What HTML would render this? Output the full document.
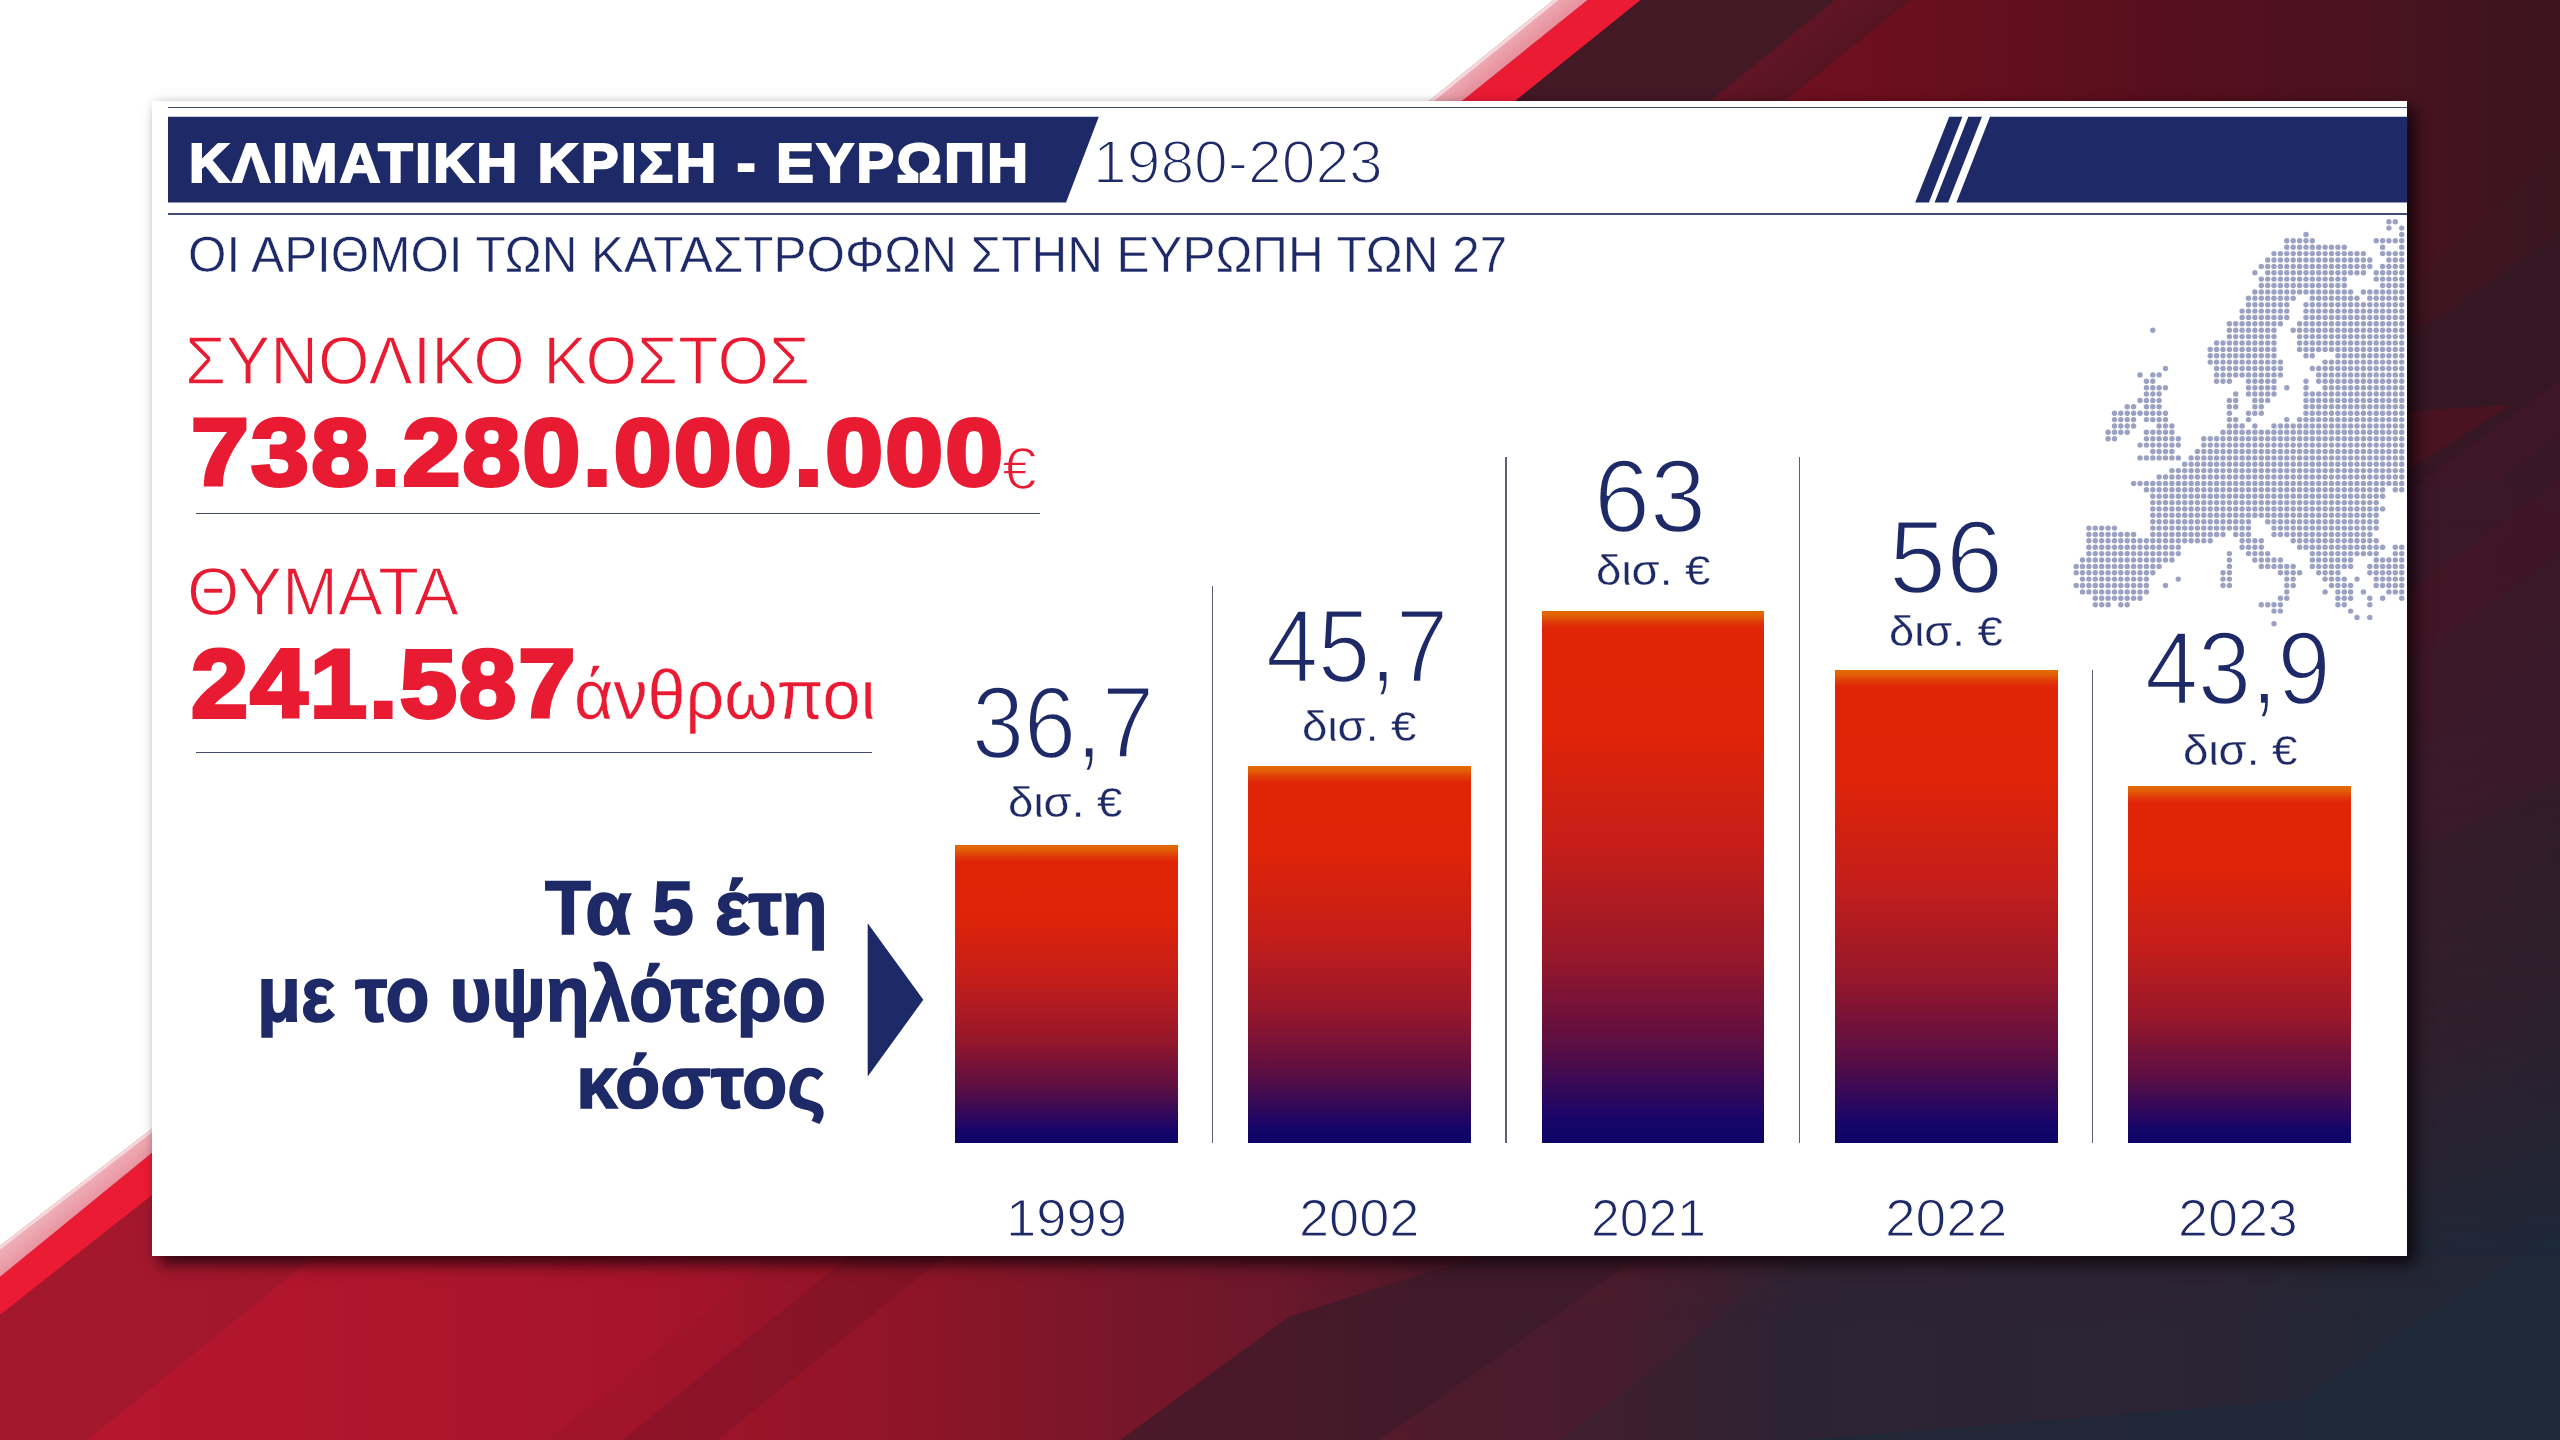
<!DOCTYPE html>
<html lang="el">
<head>
<meta charset="utf-8">
<title>Κλιματική κρίση - Ευρώπη 1980-2023</title>
<style>
html,body{margin:0;padding:0;}
body{width:2560px;height:1440px;overflow:hidden;position:relative;background:#fff;font-family:"Liberation Sans", sans-serif;}
.abs{position:absolute;left:0;top:0;}
#panel{position:absolute;left:152px;top:100.5px;width:2254.5px;height:1155.5px;background:#fff;box-shadow:8px 8px 14px rgba(10,0,5,.75), 0 0 8px rgba(0,0,0,.07);}
.t{position:absolute;display:block;line-height:1;white-space:nowrap;transform-origin:0 0;margin:0;padding:0;}
h1,h2,p{margin:0;padding:0;font-size:inherit;font-weight:inherit;}
.hline{position:absolute;height:1.3px;background:#434a74;}
.vline{position:absolute;width:1.5px;background:#5a6079;}
.bar{position:absolute;background:linear-gradient(to bottom,#e26b03 0px,#e15f05 5px,#e03a08 11px,#e02507 17px,#e02407 22%,#c41e1a 45%,#97172a 65%,#5a0e44 82%,#16056a 96%,#0c0466 100%);}
.shape{position:absolute;background:#1e2967;}
</style>
</head>
<body>
<svg class="abs" width="2560" height="1440" viewBox="0 0 2560 1440">
<defs>
 <linearGradient id="gBase" gradientUnits="userSpaceOnUse" x1="0" y1="0" x2="2560" y2="0">
  <stop offset="0" stop-color="#a4182e"/>
  <stop offset="0.10" stop-color="#a2172c"/>
  <stop offset="0.25" stop-color="#a1142a"/>
  <stop offset="0.34" stop-color="#931427"/>
  <stop offset="0.42" stop-color="#7c1629"/>
  <stop offset="0.50" stop-color="#6b172a"/>
  <stop offset="0.56" stop-color="#4c1b2c"/>
  <stop offset="0.63" stop-color="#481c2d"/>
  <stop offset="0.70" stop-color="#2f2334"/>
  <stop offset="0.86" stop-color="#2a2536"/>
  <stop offset="0.93" stop-color="#1f2838"/>
  <stop offset="1" stop-color="#1c2a3a"/>
 </linearGradient>
 <linearGradient id="gTopX" gradientUnits="userSpaceOnUse" x1="1700" y1="0" x2="2560" y2="0">
  <stop offset="0" stop-color="#72101f"/>
  <stop offset="0.25" stop-color="#6a0f1e"/>
  <stop offset="0.55" stop-color="#560f1d"/>
  <stop offset="0.8" stop-color="#48131f"/>
  <stop offset="1" stop-color="#3b141f"/>
 </linearGradient>
 <linearGradient id="gFadeY" gradientUnits="userSpaceOnUse" x1="0" y1="0" x2="0" y2="1440">
  <stop offset="0" stop-color="#fff" stop-opacity="1"/>
  <stop offset="0.2" stop-color="#fff" stop-opacity="1"/>
  <stop offset="0.5" stop-color="#fff" stop-opacity="0.85"/>
  <stop offset="0.72" stop-color="#fff" stop-opacity="0.55"/>
  <stop offset="0.86" stop-color="#fff" stop-opacity="0.12"/>
  <stop offset="0.92" stop-color="#fff" stop-opacity="0"/>
 </linearGradient>
 <mask id="mFade"><rect x="0" y="0" width="2560" height="1440" fill="url(#gFadeY)"/></mask>
 <linearGradient id="gPink" gradientUnits="userSpaceOnUse" x1="0" y1="0" x2="30" y2="37">
  <stop offset="0" stop-color="#f9dfe2"/>
  <stop offset="0.45" stop-color="#f0a9b2"/>
  <stop offset="1" stop-color="#ea7685"/>
 </linearGradient>
 <linearGradient id="gFacet" gradientUnits="userSpaceOnUse" x1="80" y1="0" x2="800" y2="0">
  <stop offset="0" stop-color="#bb152f" stop-opacity=".85"/>
  <stop offset="0.5" stop-color="#b4152e" stop-opacity=".6"/>
  <stop offset="1" stop-color="#a6142b" stop-opacity=".3"/>
 </linearGradient>
 <linearGradient id="gBand2" gradientUnits="userSpaceOnUse" x1="1835" y1="0" x2="1881.5" y2="57.6">
  <stop offset="0" stop-color="#601525"/>
  <stop offset="0.5" stop-color="#581422"/>
  <stop offset="1" stop-color="#4f121e"/>
 </linearGradient>
 <linearGradient id="gPink2" gradientUnits="userSpaceOnUse" x1="1545" y1="0" x2="1560" y2="18.58" spreadMethod="pad">
  <stop offset="0" stop-color="#efb3bb"/>
  <stop offset="1" stop-color="#e8939f"/>
 </linearGradient>
</defs>
<rect x="0" y="0" width="2560" height="1440" fill="url(#gBase)"/>
<!-- upper-right maroon mass fading downwards into the navy -->
<g mask="url(#mFade)">
 <rect x="1300" y="0" width="1260" height="1440" fill="url(#gTopX)"/>
 <polygon points="1650.4,-10.0 1848.4,-10.0 1464.6,300.0 1266.6,300.0" fill="#431926"/>
 <polygon points="1847.4,-10.0 1922.4,-10.0 1538.6,300.0 1463.6,300.0" fill="url(#gBand2)"/>
 <polygon points="2406,290 2560,150 2560,330 2406,470" fill="#3a1822" opacity=".55"/>
 <polygon points="2406,760 2560,640 2560,1440 2406,1440" fill="#33202f" opacity=".35"/>
</g>
<!-- right strip facets -->
<polygon points="2396,347 2560,233 2560,520 2500,478 2396,486" fill="#341826" opacity=".8"/>
<polygon points="2396,486 2500,478 2560,435 2560,480 2396,600" fill="#1f2030" opacity=".45"/>
<polygon points="2396,412 2510,405 2396,478" fill="#4b1322" opacity=".9"/>
<polygon points="2396,500 2560,380 2560,553 2396,667" fill="#44162a" opacity=".55"/>
<polygon points="2396,667 2560,553 2560,780 2396,860" fill="#3c1b2d" opacity=".6"/>
<!-- bottom facets -->
<polygon points="384.4,1200.0 844.4,1200.0 534.9,1450.0 74.9,1450.0" fill="url(#gFacet)"/>
<polygon points="919.4,1200.0 1014.4,1200.0 704.9,1450.0 609.9,1450.0" fill="#6d1224" opacity=".35"/>
<polygon points="1120,1440 1290,1316 1480,1256 1640,1256 1380,1440" fill="#3c1b2a" opacity=".75"/>
<polygon points="1560,1440 1800,1256 2560,1256 2560,1440" fill="#2b2435" opacity=".35"/>
<polygon points="1800,1440 2300,1400 2560,1230 2560,1440" fill="#1b2a3a" opacity=".6"/>
<!-- left: white wedge, pink edge, bright red band -->
<polygon points="1599.9,-10.0 1462.5,100.6 152.0,1152.7 0.0,1276.8 -212.0,1450.0 -172.0,1450.0 0.0,1314.7 152.0,1195.0 1515.6,100.6 1653.0,-10.0" fill="#ec1b34"/>
<polygon points="1565.9,-10.0 1429.5,100.6 152.0,1128.6 0.0,1245.7 -265.0,1450.0 -212.0,1450.0 0.0,1276.8 152.0,1152.7 1462.5,100.6 1599.9,-10.0" fill="url(#gPink2)"/>
<polygon points="-3000.0,-10.0 -3000.0,1450.0 -265.0,1450.0 0.0,1245.7 152.0,1128.6 1429.5,100.6 1565.9,-10.0" fill="#fff"/>
<polygon points="1565.9,-10.0 1429.5,100.6 152.0,1128.6 0.0,1245.7 -265.0,1450.0 -260.0,1450.0 5.0,1245.7 157.0,1128.6 1434.5,100.6 1570.9,-10.0" fill="#f6d8dc"/>
</svg>
<main id="panel"></main>
<header>
<div class="hline" style="left:168px;top:106.9px;width:2238.8px"></div>
<svg class="abs" width="2560" height="1440" viewBox="0 0 2560 1440">
 <g fill="#1e2967">
  <polygon points="168,116.7 1098.8,116.7 1066,202.5 168,202.5"/>
  <polygon points="1949.2,116.7 1962.4,116.7 1928.9,202.5 1915.2,202.5"/>
  <polygon points="1968.3,116.7 1982,116.7 1948.2,202.5 1934.6,202.5"/>
  <polygon points="1990,116.7 2407.2,116.7 2407.2,202.5 1956.4,202.5"/>
 </g>
</svg>
<h1 class="t" id="title" style="left:188.60px;top:135.63px;font-size:55.54px;font-weight:700;color:#fff;transform:scaleX(1.0132);-webkit-text-stroke:2.2px #fff;letter-spacing:2.5px;">ΚΛΙΜΑΤΙΚΗ ΚΡΙΣΗ - ΕΥΡΩΠΗ</h1>
<div class="t" id="period" style="left:1093.34px;top:132.22px;font-size:61.16px;font-weight:400;color:#1e2967;transform:scaleX(0.9909);-webkit-text-stroke:2.0px #fff;">1980-2023</div>
<div class="hline" style="left:168px;top:213.3px;width:2238.8px"></div>
<h2 class="t" id="sub" style="left:187.70px;top:230.71px;font-size:49.07px;font-weight:400;color:#1e2967;transform:scaleX(1.0072);-webkit-text-stroke:0.5px #fff;">ΟΙ ΑΡΙΘΜΟΙ ΤΩΝ ΚΑΤΑΣΤΡΟΦΩΝ ΣΤΗΝ ΕΥΡΩΠΗ ΤΩΝ 27</h2>
</header>
<aside class="map">
<svg class="abs" width="2560" height="1440" viewBox="0 0 2560 1440"><g fill="#9ba1c2"><circle cx="2388.9" cy="221.7" r="2.7"/><circle cx="2395.3" cy="221.7" r="2.7"/><circle cx="2388.9" cy="228.1" r="2.7"/><circle cx="2401.7" cy="228.1" r="2.7"/><circle cx="2306.0" cy="234.5" r="2.7"/><circle cx="2401.7" cy="234.5" r="2.7"/><circle cx="2286.8" cy="240.8" r="2.7"/><circle cx="2293.2" cy="240.8" r="2.7"/><circle cx="2299.6" cy="240.8" r="2.7"/><circle cx="2306.0" cy="240.8" r="2.7"/><circle cx="2312.3" cy="240.8" r="2.7"/><circle cx="2376.2" cy="240.8" r="2.7"/><circle cx="2382.6" cy="240.8" r="2.7"/><circle cx="2388.9" cy="240.8" r="2.7"/><circle cx="2395.3" cy="240.8" r="2.7"/><circle cx="2401.7" cy="240.8" r="2.7"/><circle cx="2286.8" cy="247.2" r="2.7"/><circle cx="2293.2" cy="247.2" r="2.7"/><circle cx="2299.6" cy="247.2" r="2.7"/><circle cx="2306.0" cy="247.2" r="2.7"/><circle cx="2312.3" cy="247.2" r="2.7"/><circle cx="2318.7" cy="247.2" r="2.7"/><circle cx="2325.1" cy="247.2" r="2.7"/><circle cx="2331.5" cy="247.2" r="2.7"/><circle cx="2337.9" cy="247.2" r="2.7"/><circle cx="2344.3" cy="247.2" r="2.7"/><circle cx="2382.6" cy="247.2" r="2.7"/><circle cx="2401.7" cy="247.2" r="2.7"/><circle cx="2274.0" cy="253.6" r="2.7"/><circle cx="2280.4" cy="253.6" r="2.7"/><circle cx="2286.8" cy="253.6" r="2.7"/><circle cx="2293.2" cy="253.6" r="2.7"/><circle cx="2299.6" cy="253.6" r="2.7"/><circle cx="2306.0" cy="253.6" r="2.7"/><circle cx="2312.3" cy="253.6" r="2.7"/><circle cx="2318.7" cy="253.6" r="2.7"/><circle cx="2325.1" cy="253.6" r="2.7"/><circle cx="2331.5" cy="253.6" r="2.7"/><circle cx="2337.9" cy="253.6" r="2.7"/><circle cx="2344.3" cy="253.6" r="2.7"/><circle cx="2350.6" cy="253.6" r="2.7"/><circle cx="2357.0" cy="253.6" r="2.7"/><circle cx="2363.4" cy="253.6" r="2.7"/><circle cx="2382.6" cy="253.6" r="2.7"/><circle cx="2388.9" cy="253.6" r="2.7"/><circle cx="2395.3" cy="253.6" r="2.7"/><circle cx="2401.7" cy="253.6" r="2.7"/><circle cx="2267.7" cy="260.0" r="2.7"/><circle cx="2274.0" cy="260.0" r="2.7"/><circle cx="2280.4" cy="260.0" r="2.7"/><circle cx="2286.8" cy="260.0" r="2.7"/><circle cx="2293.2" cy="260.0" r="2.7"/><circle cx="2299.6" cy="260.0" r="2.7"/><circle cx="2306.0" cy="260.0" r="2.7"/><circle cx="2312.3" cy="260.0" r="2.7"/><circle cx="2318.7" cy="260.0" r="2.7"/><circle cx="2325.1" cy="260.0" r="2.7"/><circle cx="2331.5" cy="260.0" r="2.7"/><circle cx="2337.9" cy="260.0" r="2.7"/><circle cx="2344.3" cy="260.0" r="2.7"/><circle cx="2350.6" cy="260.0" r="2.7"/><circle cx="2357.0" cy="260.0" r="2.7"/><circle cx="2363.4" cy="260.0" r="2.7"/><circle cx="2369.8" cy="260.0" r="2.7"/><circle cx="2388.9" cy="260.0" r="2.7"/><circle cx="2395.3" cy="260.0" r="2.7"/><circle cx="2401.7" cy="260.0" r="2.7"/><circle cx="2261.3" cy="266.4" r="2.7"/><circle cx="2267.7" cy="266.4" r="2.7"/><circle cx="2274.0" cy="266.4" r="2.7"/><circle cx="2280.4" cy="266.4" r="2.7"/><circle cx="2286.8" cy="266.4" r="2.7"/><circle cx="2293.2" cy="266.4" r="2.7"/><circle cx="2299.6" cy="266.4" r="2.7"/><circle cx="2306.0" cy="266.4" r="2.7"/><circle cx="2312.3" cy="266.4" r="2.7"/><circle cx="2318.7" cy="266.4" r="2.7"/><circle cx="2325.1" cy="266.4" r="2.7"/><circle cx="2331.5" cy="266.4" r="2.7"/><circle cx="2337.9" cy="266.4" r="2.7"/><circle cx="2344.3" cy="266.4" r="2.7"/><circle cx="2350.6" cy="266.4" r="2.7"/><circle cx="2357.0" cy="266.4" r="2.7"/><circle cx="2363.4" cy="266.4" r="2.7"/><circle cx="2369.8" cy="266.4" r="2.7"/><circle cx="2382.6" cy="266.4" r="2.7"/><circle cx="2388.9" cy="266.4" r="2.7"/><circle cx="2395.3" cy="266.4" r="2.7"/><circle cx="2401.7" cy="266.4" r="2.7"/><circle cx="2254.9" cy="272.8" r="2.7"/><circle cx="2267.7" cy="272.8" r="2.7"/><circle cx="2274.0" cy="272.8" r="2.7"/><circle cx="2280.4" cy="272.8" r="2.7"/><circle cx="2286.8" cy="272.8" r="2.7"/><circle cx="2293.2" cy="272.8" r="2.7"/><circle cx="2299.6" cy="272.8" r="2.7"/><circle cx="2306.0" cy="272.8" r="2.7"/><circle cx="2312.3" cy="272.8" r="2.7"/><circle cx="2318.7" cy="272.8" r="2.7"/><circle cx="2325.1" cy="272.8" r="2.7"/><circle cx="2331.5" cy="272.8" r="2.7"/><circle cx="2337.9" cy="272.8" r="2.7"/><circle cx="2344.3" cy="272.8" r="2.7"/><circle cx="2350.6" cy="272.8" r="2.7"/><circle cx="2357.0" cy="272.8" r="2.7"/><circle cx="2363.4" cy="272.8" r="2.7"/><circle cx="2376.2" cy="272.8" r="2.7"/><circle cx="2382.6" cy="272.8" r="2.7"/><circle cx="2388.9" cy="272.8" r="2.7"/><circle cx="2395.3" cy="272.8" r="2.7"/><circle cx="2401.7" cy="272.8" r="2.7"/><circle cx="2261.3" cy="279.1" r="2.7"/><circle cx="2267.7" cy="279.1" r="2.7"/><circle cx="2274.0" cy="279.1" r="2.7"/><circle cx="2280.4" cy="279.1" r="2.7"/><circle cx="2286.8" cy="279.1" r="2.7"/><circle cx="2293.2" cy="279.1" r="2.7"/><circle cx="2299.6" cy="279.1" r="2.7"/><circle cx="2306.0" cy="279.1" r="2.7"/><circle cx="2312.3" cy="279.1" r="2.7"/><circle cx="2318.7" cy="279.1" r="2.7"/><circle cx="2325.1" cy="279.1" r="2.7"/><circle cx="2331.5" cy="279.1" r="2.7"/><circle cx="2337.9" cy="279.1" r="2.7"/><circle cx="2344.3" cy="279.1" r="2.7"/><circle cx="2376.2" cy="279.1" r="2.7"/><circle cx="2382.6" cy="279.1" r="2.7"/><circle cx="2388.9" cy="279.1" r="2.7"/><circle cx="2395.3" cy="279.1" r="2.7"/><circle cx="2401.7" cy="279.1" r="2.7"/><circle cx="2261.3" cy="285.5" r="2.7"/><circle cx="2267.7" cy="285.5" r="2.7"/><circle cx="2274.0" cy="285.5" r="2.7"/><circle cx="2280.4" cy="285.5" r="2.7"/><circle cx="2286.8" cy="285.5" r="2.7"/><circle cx="2293.2" cy="285.5" r="2.7"/><circle cx="2299.6" cy="285.5" r="2.7"/><circle cx="2306.0" cy="285.5" r="2.7"/><circle cx="2312.3" cy="285.5" r="2.7"/><circle cx="2318.7" cy="285.5" r="2.7"/><circle cx="2325.1" cy="285.5" r="2.7"/><circle cx="2331.5" cy="285.5" r="2.7"/><circle cx="2337.9" cy="285.5" r="2.7"/><circle cx="2344.3" cy="285.5" r="2.7"/><circle cx="2382.6" cy="285.5" r="2.7"/><circle cx="2388.9" cy="285.5" r="2.7"/><circle cx="2395.3" cy="285.5" r="2.7"/><circle cx="2401.7" cy="285.5" r="2.7"/><circle cx="2254.9" cy="291.9" r="2.7"/><circle cx="2261.3" cy="291.9" r="2.7"/><circle cx="2267.7" cy="291.9" r="2.7"/><circle cx="2274.0" cy="291.9" r="2.7"/><circle cx="2280.4" cy="291.9" r="2.7"/><circle cx="2286.8" cy="291.9" r="2.7"/><circle cx="2293.2" cy="291.9" r="2.7"/><circle cx="2299.6" cy="291.9" r="2.7"/><circle cx="2306.0" cy="291.9" r="2.7"/><circle cx="2312.3" cy="291.9" r="2.7"/><circle cx="2318.7" cy="291.9" r="2.7"/><circle cx="2325.1" cy="291.9" r="2.7"/><circle cx="2331.5" cy="291.9" r="2.7"/><circle cx="2337.9" cy="291.9" r="2.7"/><circle cx="2344.3" cy="291.9" r="2.7"/><circle cx="2350.6" cy="291.9" r="2.7"/><circle cx="2363.4" cy="291.9" r="2.7"/><circle cx="2369.8" cy="291.9" r="2.7"/><circle cx="2376.2" cy="291.9" r="2.7"/><circle cx="2382.6" cy="291.9" r="2.7"/><circle cx="2388.9" cy="291.9" r="2.7"/><circle cx="2395.3" cy="291.9" r="2.7"/><circle cx="2401.7" cy="291.9" r="2.7"/><circle cx="2248.5" cy="298.3" r="2.7"/><circle cx="2254.9" cy="298.3" r="2.7"/><circle cx="2261.3" cy="298.3" r="2.7"/><circle cx="2267.7" cy="298.3" r="2.7"/><circle cx="2274.0" cy="298.3" r="2.7"/><circle cx="2280.4" cy="298.3" r="2.7"/><circle cx="2286.8" cy="298.3" r="2.7"/><circle cx="2293.2" cy="298.3" r="2.7"/><circle cx="2312.3" cy="298.3" r="2.7"/><circle cx="2318.7" cy="298.3" r="2.7"/><circle cx="2325.1" cy="298.3" r="2.7"/><circle cx="2331.5" cy="298.3" r="2.7"/><circle cx="2337.9" cy="298.3" r="2.7"/><circle cx="2344.3" cy="298.3" r="2.7"/><circle cx="2350.6" cy="298.3" r="2.7"/><circle cx="2357.0" cy="298.3" r="2.7"/><circle cx="2369.8" cy="298.3" r="2.7"/><circle cx="2376.2" cy="298.3" r="2.7"/><circle cx="2382.6" cy="298.3" r="2.7"/><circle cx="2388.9" cy="298.3" r="2.7"/><circle cx="2395.3" cy="298.3" r="2.7"/><circle cx="2401.7" cy="298.3" r="2.7"/><circle cx="2248.5" cy="304.7" r="2.7"/><circle cx="2254.9" cy="304.7" r="2.7"/><circle cx="2261.3" cy="304.7" r="2.7"/><circle cx="2267.7" cy="304.7" r="2.7"/><circle cx="2274.0" cy="304.7" r="2.7"/><circle cx="2280.4" cy="304.7" r="2.7"/><circle cx="2286.8" cy="304.7" r="2.7"/><circle cx="2306.0" cy="304.7" r="2.7"/><circle cx="2312.3" cy="304.7" r="2.7"/><circle cx="2318.7" cy="304.7" r="2.7"/><circle cx="2325.1" cy="304.7" r="2.7"/><circle cx="2331.5" cy="304.7" r="2.7"/><circle cx="2337.9" cy="304.7" r="2.7"/><circle cx="2344.3" cy="304.7" r="2.7"/><circle cx="2350.6" cy="304.7" r="2.7"/><circle cx="2357.0" cy="304.7" r="2.7"/><circle cx="2363.4" cy="304.7" r="2.7"/><circle cx="2369.8" cy="304.7" r="2.7"/><circle cx="2376.2" cy="304.7" r="2.7"/><circle cx="2382.6" cy="304.7" r="2.7"/><circle cx="2388.9" cy="304.7" r="2.7"/><circle cx="2395.3" cy="304.7" r="2.7"/><circle cx="2401.7" cy="304.7" r="2.7"/><circle cx="2242.1" cy="311.1" r="2.7"/><circle cx="2248.5" cy="311.1" r="2.7"/><circle cx="2254.9" cy="311.1" r="2.7"/><circle cx="2261.3" cy="311.1" r="2.7"/><circle cx="2267.7" cy="311.1" r="2.7"/><circle cx="2274.0" cy="311.1" r="2.7"/><circle cx="2280.4" cy="311.1" r="2.7"/><circle cx="2286.8" cy="311.1" r="2.7"/><circle cx="2306.0" cy="311.1" r="2.7"/><circle cx="2312.3" cy="311.1" r="2.7"/><circle cx="2318.7" cy="311.1" r="2.7"/><circle cx="2325.1" cy="311.1" r="2.7"/><circle cx="2331.5" cy="311.1" r="2.7"/><circle cx="2337.9" cy="311.1" r="2.7"/><circle cx="2344.3" cy="311.1" r="2.7"/><circle cx="2350.6" cy="311.1" r="2.7"/><circle cx="2357.0" cy="311.1" r="2.7"/><circle cx="2363.4" cy="311.1" r="2.7"/><circle cx="2369.8" cy="311.1" r="2.7"/><circle cx="2376.2" cy="311.1" r="2.7"/><circle cx="2382.6" cy="311.1" r="2.7"/><circle cx="2388.9" cy="311.1" r="2.7"/><circle cx="2395.3" cy="311.1" r="2.7"/><circle cx="2401.7" cy="311.1" r="2.7"/><circle cx="2242.1" cy="317.4" r="2.7"/><circle cx="2248.5" cy="317.4" r="2.7"/><circle cx="2254.9" cy="317.4" r="2.7"/><circle cx="2261.3" cy="317.4" r="2.7"/><circle cx="2267.7" cy="317.4" r="2.7"/><circle cx="2274.0" cy="317.4" r="2.7"/><circle cx="2280.4" cy="317.4" r="2.7"/><circle cx="2286.8" cy="317.4" r="2.7"/><circle cx="2306.0" cy="317.4" r="2.7"/><circle cx="2312.3" cy="317.4" r="2.7"/><circle cx="2318.7" cy="317.4" r="2.7"/><circle cx="2325.1" cy="317.4" r="2.7"/><circle cx="2331.5" cy="317.4" r="2.7"/><circle cx="2337.9" cy="317.4" r="2.7"/><circle cx="2344.3" cy="317.4" r="2.7"/><circle cx="2350.6" cy="317.4" r="2.7"/><circle cx="2357.0" cy="317.4" r="2.7"/><circle cx="2363.4" cy="317.4" r="2.7"/><circle cx="2369.8" cy="317.4" r="2.7"/><circle cx="2376.2" cy="317.4" r="2.7"/><circle cx="2382.6" cy="317.4" r="2.7"/><circle cx="2388.9" cy="317.4" r="2.7"/><circle cx="2395.3" cy="317.4" r="2.7"/><circle cx="2401.7" cy="317.4" r="2.7"/><circle cx="2229.4" cy="323.8" r="2.7"/><circle cx="2235.7" cy="323.8" r="2.7"/><circle cx="2242.1" cy="323.8" r="2.7"/><circle cx="2248.5" cy="323.8" r="2.7"/><circle cx="2254.9" cy="323.8" r="2.7"/><circle cx="2261.3" cy="323.8" r="2.7"/><circle cx="2267.7" cy="323.8" r="2.7"/><circle cx="2274.0" cy="323.8" r="2.7"/><circle cx="2280.4" cy="323.8" r="2.7"/><circle cx="2299.6" cy="323.8" r="2.7"/><circle cx="2306.0" cy="323.8" r="2.7"/><circle cx="2312.3" cy="323.8" r="2.7"/><circle cx="2318.7" cy="323.8" r="2.7"/><circle cx="2325.1" cy="323.8" r="2.7"/><circle cx="2331.5" cy="323.8" r="2.7"/><circle cx="2337.9" cy="323.8" r="2.7"/><circle cx="2344.3" cy="323.8" r="2.7"/><circle cx="2350.6" cy="323.8" r="2.7"/><circle cx="2357.0" cy="323.8" r="2.7"/><circle cx="2363.4" cy="323.8" r="2.7"/><circle cx="2369.8" cy="323.8" r="2.7"/><circle cx="2376.2" cy="323.8" r="2.7"/><circle cx="2382.6" cy="323.8" r="2.7"/><circle cx="2388.9" cy="323.8" r="2.7"/><circle cx="2395.3" cy="323.8" r="2.7"/><circle cx="2401.7" cy="323.8" r="2.7"/><circle cx="2152.8" cy="330.2" r="2.7"/><circle cx="2229.4" cy="330.2" r="2.7"/><circle cx="2235.7" cy="330.2" r="2.7"/><circle cx="2242.1" cy="330.2" r="2.7"/><circle cx="2248.5" cy="330.2" r="2.7"/><circle cx="2254.9" cy="330.2" r="2.7"/><circle cx="2261.3" cy="330.2" r="2.7"/><circle cx="2267.7" cy="330.2" r="2.7"/><circle cx="2274.0" cy="330.2" r="2.7"/><circle cx="2293.2" cy="330.2" r="2.7"/><circle cx="2299.6" cy="330.2" r="2.7"/><circle cx="2306.0" cy="330.2" r="2.7"/><circle cx="2312.3" cy="330.2" r="2.7"/><circle cx="2318.7" cy="330.2" r="2.7"/><circle cx="2325.1" cy="330.2" r="2.7"/><circle cx="2331.5" cy="330.2" r="2.7"/><circle cx="2337.9" cy="330.2" r="2.7"/><circle cx="2344.3" cy="330.2" r="2.7"/><circle cx="2350.6" cy="330.2" r="2.7"/><circle cx="2357.0" cy="330.2" r="2.7"/><circle cx="2363.4" cy="330.2" r="2.7"/><circle cx="2369.8" cy="330.2" r="2.7"/><circle cx="2376.2" cy="330.2" r="2.7"/><circle cx="2382.6" cy="330.2" r="2.7"/><circle cx="2388.9" cy="330.2" r="2.7"/><circle cx="2395.3" cy="330.2" r="2.7"/><circle cx="2401.7" cy="330.2" r="2.7"/><circle cx="2229.4" cy="336.6" r="2.7"/><circle cx="2235.7" cy="336.6" r="2.7"/><circle cx="2242.1" cy="336.6" r="2.7"/><circle cx="2248.5" cy="336.6" r="2.7"/><circle cx="2254.9" cy="336.6" r="2.7"/><circle cx="2261.3" cy="336.6" r="2.7"/><circle cx="2267.7" cy="336.6" r="2.7"/><circle cx="2274.0" cy="336.6" r="2.7"/><circle cx="2299.6" cy="336.6" r="2.7"/><circle cx="2306.0" cy="336.6" r="2.7"/><circle cx="2312.3" cy="336.6" r="2.7"/><circle cx="2318.7" cy="336.6" r="2.7"/><circle cx="2325.1" cy="336.6" r="2.7"/><circle cx="2331.5" cy="336.6" r="2.7"/><circle cx="2337.9" cy="336.6" r="2.7"/><circle cx="2344.3" cy="336.6" r="2.7"/><circle cx="2350.6" cy="336.6" r="2.7"/><circle cx="2357.0" cy="336.6" r="2.7"/><circle cx="2363.4" cy="336.6" r="2.7"/><circle cx="2369.8" cy="336.6" r="2.7"/><circle cx="2376.2" cy="336.6" r="2.7"/><circle cx="2382.6" cy="336.6" r="2.7"/><circle cx="2388.9" cy="336.6" r="2.7"/><circle cx="2395.3" cy="336.6" r="2.7"/><circle cx="2401.7" cy="336.6" r="2.7"/><circle cx="2216.6" cy="343.0" r="2.7"/><circle cx="2223.0" cy="343.0" r="2.7"/><circle cx="2229.4" cy="343.0" r="2.7"/><circle cx="2235.7" cy="343.0" r="2.7"/><circle cx="2242.1" cy="343.0" r="2.7"/><circle cx="2248.5" cy="343.0" r="2.7"/><circle cx="2254.9" cy="343.0" r="2.7"/><circle cx="2261.3" cy="343.0" r="2.7"/><circle cx="2267.7" cy="343.0" r="2.7"/><circle cx="2274.0" cy="343.0" r="2.7"/><circle cx="2299.6" cy="343.0" r="2.7"/><circle cx="2306.0" cy="343.0" r="2.7"/><circle cx="2312.3" cy="343.0" r="2.7"/><circle cx="2318.7" cy="343.0" r="2.7"/><circle cx="2325.1" cy="343.0" r="2.7"/><circle cx="2331.5" cy="343.0" r="2.7"/><circle cx="2337.9" cy="343.0" r="2.7"/><circle cx="2344.3" cy="343.0" r="2.7"/><circle cx="2350.6" cy="343.0" r="2.7"/><circle cx="2357.0" cy="343.0" r="2.7"/><circle cx="2363.4" cy="343.0" r="2.7"/><circle cx="2369.8" cy="343.0" r="2.7"/><circle cx="2376.2" cy="343.0" r="2.7"/><circle cx="2382.6" cy="343.0" r="2.7"/><circle cx="2388.9" cy="343.0" r="2.7"/><circle cx="2395.3" cy="343.0" r="2.7"/><circle cx="2401.7" cy="343.0" r="2.7"/><circle cx="2210.2" cy="349.4" r="2.7"/><circle cx="2216.6" cy="349.4" r="2.7"/><circle cx="2223.0" cy="349.4" r="2.7"/><circle cx="2229.4" cy="349.4" r="2.7"/><circle cx="2235.7" cy="349.4" r="2.7"/><circle cx="2242.1" cy="349.4" r="2.7"/><circle cx="2248.5" cy="349.4" r="2.7"/><circle cx="2254.9" cy="349.4" r="2.7"/><circle cx="2261.3" cy="349.4" r="2.7"/><circle cx="2267.7" cy="349.4" r="2.7"/><circle cx="2274.0" cy="349.4" r="2.7"/><circle cx="2299.6" cy="349.4" r="2.7"/><circle cx="2306.0" cy="349.4" r="2.7"/><circle cx="2312.3" cy="349.4" r="2.7"/><circle cx="2318.7" cy="349.4" r="2.7"/><circle cx="2325.1" cy="349.4" r="2.7"/><circle cx="2331.5" cy="349.4" r="2.7"/><circle cx="2337.9" cy="349.4" r="2.7"/><circle cx="2344.3" cy="349.4" r="2.7"/><circle cx="2350.6" cy="349.4" r="2.7"/><circle cx="2357.0" cy="349.4" r="2.7"/><circle cx="2363.4" cy="349.4" r="2.7"/><circle cx="2369.8" cy="349.4" r="2.7"/><circle cx="2376.2" cy="349.4" r="2.7"/><circle cx="2382.6" cy="349.4" r="2.7"/><circle cx="2388.9" cy="349.4" r="2.7"/><circle cx="2395.3" cy="349.4" r="2.7"/><circle cx="2401.7" cy="349.4" r="2.7"/><circle cx="2210.2" cy="355.7" r="2.7"/><circle cx="2216.6" cy="355.7" r="2.7"/><circle cx="2223.0" cy="355.7" r="2.7"/><circle cx="2229.4" cy="355.7" r="2.7"/><circle cx="2235.7" cy="355.7" r="2.7"/><circle cx="2242.1" cy="355.7" r="2.7"/><circle cx="2248.5" cy="355.7" r="2.7"/><circle cx="2254.9" cy="355.7" r="2.7"/><circle cx="2261.3" cy="355.7" r="2.7"/><circle cx="2267.7" cy="355.7" r="2.7"/><circle cx="2274.0" cy="355.7" r="2.7"/><circle cx="2306.0" cy="355.7" r="2.7"/><circle cx="2312.3" cy="355.7" r="2.7"/><circle cx="2337.9" cy="355.7" r="2.7"/><circle cx="2344.3" cy="355.7" r="2.7"/><circle cx="2350.6" cy="355.7" r="2.7"/><circle cx="2357.0" cy="355.7" r="2.7"/><circle cx="2363.4" cy="355.7" r="2.7"/><circle cx="2369.8" cy="355.7" r="2.7"/><circle cx="2376.2" cy="355.7" r="2.7"/><circle cx="2382.6" cy="355.7" r="2.7"/><circle cx="2388.9" cy="355.7" r="2.7"/><circle cx="2395.3" cy="355.7" r="2.7"/><circle cx="2401.7" cy="355.7" r="2.7"/><circle cx="2210.2" cy="362.1" r="2.7"/><circle cx="2216.6" cy="362.1" r="2.7"/><circle cx="2223.0" cy="362.1" r="2.7"/><circle cx="2229.4" cy="362.1" r="2.7"/><circle cx="2235.7" cy="362.1" r="2.7"/><circle cx="2242.1" cy="362.1" r="2.7"/><circle cx="2248.5" cy="362.1" r="2.7"/><circle cx="2254.9" cy="362.1" r="2.7"/><circle cx="2261.3" cy="362.1" r="2.7"/><circle cx="2267.7" cy="362.1" r="2.7"/><circle cx="2274.0" cy="362.1" r="2.7"/><circle cx="2280.4" cy="362.1" r="2.7"/><circle cx="2325.1" cy="362.1" r="2.7"/><circle cx="2331.5" cy="362.1" r="2.7"/><circle cx="2337.9" cy="362.1" r="2.7"/><circle cx="2344.3" cy="362.1" r="2.7"/><circle cx="2350.6" cy="362.1" r="2.7"/><circle cx="2357.0" cy="362.1" r="2.7"/><circle cx="2363.4" cy="362.1" r="2.7"/><circle cx="2369.8" cy="362.1" r="2.7"/><circle cx="2376.2" cy="362.1" r="2.7"/><circle cx="2382.6" cy="362.1" r="2.7"/><circle cx="2388.9" cy="362.1" r="2.7"/><circle cx="2395.3" cy="362.1" r="2.7"/><circle cx="2401.7" cy="362.1" r="2.7"/><circle cx="2165.5" cy="368.5" r="2.7"/><circle cx="2216.6" cy="368.5" r="2.7"/><circle cx="2223.0" cy="368.5" r="2.7"/><circle cx="2229.4" cy="368.5" r="2.7"/><circle cx="2235.7" cy="368.5" r="2.7"/><circle cx="2242.1" cy="368.5" r="2.7"/><circle cx="2248.5" cy="368.5" r="2.7"/><circle cx="2254.9" cy="368.5" r="2.7"/><circle cx="2261.3" cy="368.5" r="2.7"/><circle cx="2267.7" cy="368.5" r="2.7"/><circle cx="2274.0" cy="368.5" r="2.7"/><circle cx="2280.4" cy="368.5" r="2.7"/><circle cx="2312.3" cy="368.5" r="2.7"/><circle cx="2318.7" cy="368.5" r="2.7"/><circle cx="2325.1" cy="368.5" r="2.7"/><circle cx="2331.5" cy="368.5" r="2.7"/><circle cx="2337.9" cy="368.5" r="2.7"/><circle cx="2344.3" cy="368.5" r="2.7"/><circle cx="2350.6" cy="368.5" r="2.7"/><circle cx="2357.0" cy="368.5" r="2.7"/><circle cx="2363.4" cy="368.5" r="2.7"/><circle cx="2369.8" cy="368.5" r="2.7"/><circle cx="2376.2" cy="368.5" r="2.7"/><circle cx="2382.6" cy="368.5" r="2.7"/><circle cx="2388.9" cy="368.5" r="2.7"/><circle cx="2395.3" cy="368.5" r="2.7"/><circle cx="2401.7" cy="368.5" r="2.7"/><circle cx="2140.0" cy="374.9" r="2.7"/><circle cx="2152.8" cy="374.9" r="2.7"/><circle cx="2159.1" cy="374.9" r="2.7"/><circle cx="2216.6" cy="374.9" r="2.7"/><circle cx="2223.0" cy="374.9" r="2.7"/><circle cx="2229.4" cy="374.9" r="2.7"/><circle cx="2235.7" cy="374.9" r="2.7"/><circle cx="2242.1" cy="374.9" r="2.7"/><circle cx="2248.5" cy="374.9" r="2.7"/><circle cx="2254.9" cy="374.9" r="2.7"/><circle cx="2261.3" cy="374.9" r="2.7"/><circle cx="2267.7" cy="374.9" r="2.7"/><circle cx="2274.0" cy="374.9" r="2.7"/><circle cx="2280.4" cy="374.9" r="2.7"/><circle cx="2318.7" cy="374.9" r="2.7"/><circle cx="2325.1" cy="374.9" r="2.7"/><circle cx="2331.5" cy="374.9" r="2.7"/><circle cx="2337.9" cy="374.9" r="2.7"/><circle cx="2344.3" cy="374.9" r="2.7"/><circle cx="2350.6" cy="374.9" r="2.7"/><circle cx="2357.0" cy="374.9" r="2.7"/><circle cx="2363.4" cy="374.9" r="2.7"/><circle cx="2369.8" cy="374.9" r="2.7"/><circle cx="2376.2" cy="374.9" r="2.7"/><circle cx="2382.6" cy="374.9" r="2.7"/><circle cx="2388.9" cy="374.9" r="2.7"/><circle cx="2395.3" cy="374.9" r="2.7"/><circle cx="2401.7" cy="374.9" r="2.7"/><circle cx="2146.4" cy="381.3" r="2.7"/><circle cx="2152.8" cy="381.3" r="2.7"/><circle cx="2216.6" cy="381.3" r="2.7"/><circle cx="2223.0" cy="381.3" r="2.7"/><circle cx="2229.4" cy="381.3" r="2.7"/><circle cx="2248.5" cy="381.3" r="2.7"/><circle cx="2254.9" cy="381.3" r="2.7"/><circle cx="2261.3" cy="381.3" r="2.7"/><circle cx="2267.7" cy="381.3" r="2.7"/><circle cx="2274.0" cy="381.3" r="2.7"/><circle cx="2306.0" cy="381.3" r="2.7"/><circle cx="2318.7" cy="381.3" r="2.7"/><circle cx="2325.1" cy="381.3" r="2.7"/><circle cx="2331.5" cy="381.3" r="2.7"/><circle cx="2337.9" cy="381.3" r="2.7"/><circle cx="2344.3" cy="381.3" r="2.7"/><circle cx="2350.6" cy="381.3" r="2.7"/><circle cx="2357.0" cy="381.3" r="2.7"/><circle cx="2363.4" cy="381.3" r="2.7"/><circle cx="2369.8" cy="381.3" r="2.7"/><circle cx="2376.2" cy="381.3" r="2.7"/><circle cx="2382.6" cy="381.3" r="2.7"/><circle cx="2388.9" cy="381.3" r="2.7"/><circle cx="2395.3" cy="381.3" r="2.7"/><circle cx="2401.7" cy="381.3" r="2.7"/><circle cx="2146.4" cy="387.7" r="2.7"/><circle cx="2152.8" cy="387.7" r="2.7"/><circle cx="2159.1" cy="387.7" r="2.7"/><circle cx="2165.5" cy="387.7" r="2.7"/><circle cx="2248.5" cy="387.7" r="2.7"/><circle cx="2254.9" cy="387.7" r="2.7"/><circle cx="2261.3" cy="387.7" r="2.7"/><circle cx="2267.7" cy="387.7" r="2.7"/><circle cx="2274.0" cy="387.7" r="2.7"/><circle cx="2286.8" cy="387.7" r="2.7"/><circle cx="2306.0" cy="387.7" r="2.7"/><circle cx="2325.1" cy="387.7" r="2.7"/><circle cx="2331.5" cy="387.7" r="2.7"/><circle cx="2337.9" cy="387.7" r="2.7"/><circle cx="2344.3" cy="387.7" r="2.7"/><circle cx="2350.6" cy="387.7" r="2.7"/><circle cx="2357.0" cy="387.7" r="2.7"/><circle cx="2363.4" cy="387.7" r="2.7"/><circle cx="2369.8" cy="387.7" r="2.7"/><circle cx="2376.2" cy="387.7" r="2.7"/><circle cx="2382.6" cy="387.7" r="2.7"/><circle cx="2388.9" cy="387.7" r="2.7"/><circle cx="2395.3" cy="387.7" r="2.7"/><circle cx="2401.7" cy="387.7" r="2.7"/><circle cx="2146.4" cy="394.0" r="2.7"/><circle cx="2152.8" cy="394.0" r="2.7"/><circle cx="2159.1" cy="394.0" r="2.7"/><circle cx="2235.7" cy="394.0" r="2.7"/><circle cx="2248.5" cy="394.0" r="2.7"/><circle cx="2254.9" cy="394.0" r="2.7"/><circle cx="2261.3" cy="394.0" r="2.7"/><circle cx="2267.7" cy="394.0" r="2.7"/><circle cx="2274.0" cy="394.0" r="2.7"/><circle cx="2306.0" cy="394.0" r="2.7"/><circle cx="2312.3" cy="394.0" r="2.7"/><circle cx="2318.7" cy="394.0" r="2.7"/><circle cx="2325.1" cy="394.0" r="2.7"/><circle cx="2331.5" cy="394.0" r="2.7"/><circle cx="2337.9" cy="394.0" r="2.7"/><circle cx="2344.3" cy="394.0" r="2.7"/><circle cx="2350.6" cy="394.0" r="2.7"/><circle cx="2357.0" cy="394.0" r="2.7"/><circle cx="2363.4" cy="394.0" r="2.7"/><circle cx="2369.8" cy="394.0" r="2.7"/><circle cx="2376.2" cy="394.0" r="2.7"/><circle cx="2382.6" cy="394.0" r="2.7"/><circle cx="2388.9" cy="394.0" r="2.7"/><circle cx="2395.3" cy="394.0" r="2.7"/><circle cx="2401.7" cy="394.0" r="2.7"/><circle cx="2140.0" cy="400.4" r="2.7"/><circle cx="2146.4" cy="400.4" r="2.7"/><circle cx="2152.8" cy="400.4" r="2.7"/><circle cx="2159.1" cy="400.4" r="2.7"/><circle cx="2229.4" cy="400.4" r="2.7"/><circle cx="2235.7" cy="400.4" r="2.7"/><circle cx="2254.9" cy="400.4" r="2.7"/><circle cx="2261.3" cy="400.4" r="2.7"/><circle cx="2267.7" cy="400.4" r="2.7"/><circle cx="2306.0" cy="400.4" r="2.7"/><circle cx="2312.3" cy="400.4" r="2.7"/><circle cx="2318.7" cy="400.4" r="2.7"/><circle cx="2325.1" cy="400.4" r="2.7"/><circle cx="2331.5" cy="400.4" r="2.7"/><circle cx="2337.9" cy="400.4" r="2.7"/><circle cx="2344.3" cy="400.4" r="2.7"/><circle cx="2350.6" cy="400.4" r="2.7"/><circle cx="2357.0" cy="400.4" r="2.7"/><circle cx="2363.4" cy="400.4" r="2.7"/><circle cx="2369.8" cy="400.4" r="2.7"/><circle cx="2376.2" cy="400.4" r="2.7"/><circle cx="2382.6" cy="400.4" r="2.7"/><circle cx="2388.9" cy="400.4" r="2.7"/><circle cx="2395.3" cy="400.4" r="2.7"/><circle cx="2401.7" cy="400.4" r="2.7"/><circle cx="2127.2" cy="406.8" r="2.7"/><circle cx="2133.6" cy="406.8" r="2.7"/><circle cx="2146.4" cy="406.8" r="2.7"/><circle cx="2152.8" cy="406.8" r="2.7"/><circle cx="2159.1" cy="406.8" r="2.7"/><circle cx="2229.4" cy="406.8" r="2.7"/><circle cx="2235.7" cy="406.8" r="2.7"/><circle cx="2254.9" cy="406.8" r="2.7"/><circle cx="2261.3" cy="406.8" r="2.7"/><circle cx="2306.0" cy="406.8" r="2.7"/><circle cx="2312.3" cy="406.8" r="2.7"/><circle cx="2318.7" cy="406.8" r="2.7"/><circle cx="2325.1" cy="406.8" r="2.7"/><circle cx="2331.5" cy="406.8" r="2.7"/><circle cx="2337.9" cy="406.8" r="2.7"/><circle cx="2344.3" cy="406.8" r="2.7"/><circle cx="2350.6" cy="406.8" r="2.7"/><circle cx="2357.0" cy="406.8" r="2.7"/><circle cx="2363.4" cy="406.8" r="2.7"/><circle cx="2369.8" cy="406.8" r="2.7"/><circle cx="2376.2" cy="406.8" r="2.7"/><circle cx="2382.6" cy="406.8" r="2.7"/><circle cx="2388.9" cy="406.8" r="2.7"/><circle cx="2395.3" cy="406.8" r="2.7"/><circle cx="2401.7" cy="406.8" r="2.7"/><circle cx="2114.5" cy="413.2" r="2.7"/><circle cx="2120.8" cy="413.2" r="2.7"/><circle cx="2127.2" cy="413.2" r="2.7"/><circle cx="2133.6" cy="413.2" r="2.7"/><circle cx="2140.0" cy="413.2" r="2.7"/><circle cx="2146.4" cy="413.2" r="2.7"/><circle cx="2152.8" cy="413.2" r="2.7"/><circle cx="2159.1" cy="413.2" r="2.7"/><circle cx="2165.5" cy="413.2" r="2.7"/><circle cx="2229.4" cy="413.2" r="2.7"/><circle cx="2248.5" cy="413.2" r="2.7"/><circle cx="2254.9" cy="413.2" r="2.7"/><circle cx="2261.3" cy="413.2" r="2.7"/><circle cx="2306.0" cy="413.2" r="2.7"/><circle cx="2312.3" cy="413.2" r="2.7"/><circle cx="2318.7" cy="413.2" r="2.7"/><circle cx="2325.1" cy="413.2" r="2.7"/><circle cx="2331.5" cy="413.2" r="2.7"/><circle cx="2337.9" cy="413.2" r="2.7"/><circle cx="2344.3" cy="413.2" r="2.7"/><circle cx="2350.6" cy="413.2" r="2.7"/><circle cx="2357.0" cy="413.2" r="2.7"/><circle cx="2363.4" cy="413.2" r="2.7"/><circle cx="2369.8" cy="413.2" r="2.7"/><circle cx="2376.2" cy="413.2" r="2.7"/><circle cx="2382.6" cy="413.2" r="2.7"/><circle cx="2388.9" cy="413.2" r="2.7"/><circle cx="2395.3" cy="413.2" r="2.7"/><circle cx="2401.7" cy="413.2" r="2.7"/><circle cx="2114.5" cy="419.6" r="2.7"/><circle cx="2120.8" cy="419.6" r="2.7"/><circle cx="2127.2" cy="419.6" r="2.7"/><circle cx="2133.6" cy="419.6" r="2.7"/><circle cx="2146.4" cy="419.6" r="2.7"/><circle cx="2152.8" cy="419.6" r="2.7"/><circle cx="2159.1" cy="419.6" r="2.7"/><circle cx="2165.5" cy="419.6" r="2.7"/><circle cx="2229.4" cy="419.6" r="2.7"/><circle cx="2235.7" cy="419.6" r="2.7"/><circle cx="2248.5" cy="419.6" r="2.7"/><circle cx="2286.8" cy="419.6" r="2.7"/><circle cx="2299.6" cy="419.6" r="2.7"/><circle cx="2306.0" cy="419.6" r="2.7"/><circle cx="2312.3" cy="419.6" r="2.7"/><circle cx="2318.7" cy="419.6" r="2.7"/><circle cx="2325.1" cy="419.6" r="2.7"/><circle cx="2331.5" cy="419.6" r="2.7"/><circle cx="2337.9" cy="419.6" r="2.7"/><circle cx="2344.3" cy="419.6" r="2.7"/><circle cx="2350.6" cy="419.6" r="2.7"/><circle cx="2357.0" cy="419.6" r="2.7"/><circle cx="2363.4" cy="419.6" r="2.7"/><circle cx="2369.8" cy="419.6" r="2.7"/><circle cx="2376.2" cy="419.6" r="2.7"/><circle cx="2382.6" cy="419.6" r="2.7"/><circle cx="2388.9" cy="419.6" r="2.7"/><circle cx="2395.3" cy="419.6" r="2.7"/><circle cx="2401.7" cy="419.6" r="2.7"/><circle cx="2114.5" cy="426.0" r="2.7"/><circle cx="2120.8" cy="426.0" r="2.7"/><circle cx="2127.2" cy="426.0" r="2.7"/><circle cx="2133.6" cy="426.0" r="2.7"/><circle cx="2159.1" cy="426.0" r="2.7"/><circle cx="2165.5" cy="426.0" r="2.7"/><circle cx="2171.9" cy="426.0" r="2.7"/><circle cx="2229.4" cy="426.0" r="2.7"/><circle cx="2235.7" cy="426.0" r="2.7"/><circle cx="2242.1" cy="426.0" r="2.7"/><circle cx="2254.9" cy="426.0" r="2.7"/><circle cx="2274.0" cy="426.0" r="2.7"/><circle cx="2280.4" cy="426.0" r="2.7"/><circle cx="2286.8" cy="426.0" r="2.7"/><circle cx="2293.2" cy="426.0" r="2.7"/><circle cx="2299.6" cy="426.0" r="2.7"/><circle cx="2306.0" cy="426.0" r="2.7"/><circle cx="2312.3" cy="426.0" r="2.7"/><circle cx="2318.7" cy="426.0" r="2.7"/><circle cx="2325.1" cy="426.0" r="2.7"/><circle cx="2331.5" cy="426.0" r="2.7"/><circle cx="2337.9" cy="426.0" r="2.7"/><circle cx="2344.3" cy="426.0" r="2.7"/><circle cx="2350.6" cy="426.0" r="2.7"/><circle cx="2357.0" cy="426.0" r="2.7"/><circle cx="2363.4" cy="426.0" r="2.7"/><circle cx="2369.8" cy="426.0" r="2.7"/><circle cx="2376.2" cy="426.0" r="2.7"/><circle cx="2382.6" cy="426.0" r="2.7"/><circle cx="2388.9" cy="426.0" r="2.7"/><circle cx="2395.3" cy="426.0" r="2.7"/><circle cx="2401.7" cy="426.0" r="2.7"/><circle cx="2108.1" cy="432.3" r="2.7"/><circle cx="2114.5" cy="432.3" r="2.7"/><circle cx="2120.8" cy="432.3" r="2.7"/><circle cx="2127.2" cy="432.3" r="2.7"/><circle cx="2146.4" cy="432.3" r="2.7"/><circle cx="2152.8" cy="432.3" r="2.7"/><circle cx="2159.1" cy="432.3" r="2.7"/><circle cx="2165.5" cy="432.3" r="2.7"/><circle cx="2171.9" cy="432.3" r="2.7"/><circle cx="2223.0" cy="432.3" r="2.7"/><circle cx="2229.4" cy="432.3" r="2.7"/><circle cx="2235.7" cy="432.3" r="2.7"/><circle cx="2242.1" cy="432.3" r="2.7"/><circle cx="2248.5" cy="432.3" r="2.7"/><circle cx="2254.9" cy="432.3" r="2.7"/><circle cx="2261.3" cy="432.3" r="2.7"/><circle cx="2267.7" cy="432.3" r="2.7"/><circle cx="2274.0" cy="432.3" r="2.7"/><circle cx="2280.4" cy="432.3" r="2.7"/><circle cx="2286.8" cy="432.3" r="2.7"/><circle cx="2293.2" cy="432.3" r="2.7"/><circle cx="2299.6" cy="432.3" r="2.7"/><circle cx="2306.0" cy="432.3" r="2.7"/><circle cx="2312.3" cy="432.3" r="2.7"/><circle cx="2318.7" cy="432.3" r="2.7"/><circle cx="2325.1" cy="432.3" r="2.7"/><circle cx="2331.5" cy="432.3" r="2.7"/><circle cx="2337.9" cy="432.3" r="2.7"/><circle cx="2344.3" cy="432.3" r="2.7"/><circle cx="2350.6" cy="432.3" r="2.7"/><circle cx="2357.0" cy="432.3" r="2.7"/><circle cx="2363.4" cy="432.3" r="2.7"/><circle cx="2369.8" cy="432.3" r="2.7"/><circle cx="2376.2" cy="432.3" r="2.7"/><circle cx="2382.6" cy="432.3" r="2.7"/><circle cx="2388.9" cy="432.3" r="2.7"/><circle cx="2395.3" cy="432.3" r="2.7"/><circle cx="2401.7" cy="432.3" r="2.7"/><circle cx="2108.1" cy="438.7" r="2.7"/><circle cx="2114.5" cy="438.7" r="2.7"/><circle cx="2146.4" cy="438.7" r="2.7"/><circle cx="2152.8" cy="438.7" r="2.7"/><circle cx="2159.1" cy="438.7" r="2.7"/><circle cx="2165.5" cy="438.7" r="2.7"/><circle cx="2171.9" cy="438.7" r="2.7"/><circle cx="2178.3" cy="438.7" r="2.7"/><circle cx="2203.8" cy="438.7" r="2.7"/><circle cx="2210.2" cy="438.7" r="2.7"/><circle cx="2216.6" cy="438.7" r="2.7"/><circle cx="2223.0" cy="438.7" r="2.7"/><circle cx="2229.4" cy="438.7" r="2.7"/><circle cx="2235.7" cy="438.7" r="2.7"/><circle cx="2242.1" cy="438.7" r="2.7"/><circle cx="2248.5" cy="438.7" r="2.7"/><circle cx="2254.9" cy="438.7" r="2.7"/><circle cx="2261.3" cy="438.7" r="2.7"/><circle cx="2267.7" cy="438.7" r="2.7"/><circle cx="2274.0" cy="438.7" r="2.7"/><circle cx="2280.4" cy="438.7" r="2.7"/><circle cx="2286.8" cy="438.7" r="2.7"/><circle cx="2293.2" cy="438.7" r="2.7"/><circle cx="2299.6" cy="438.7" r="2.7"/><circle cx="2306.0" cy="438.7" r="2.7"/><circle cx="2312.3" cy="438.7" r="2.7"/><circle cx="2318.7" cy="438.7" r="2.7"/><circle cx="2325.1" cy="438.7" r="2.7"/><circle cx="2331.5" cy="438.7" r="2.7"/><circle cx="2337.9" cy="438.7" r="2.7"/><circle cx="2344.3" cy="438.7" r="2.7"/><circle cx="2350.6" cy="438.7" r="2.7"/><circle cx="2357.0" cy="438.7" r="2.7"/><circle cx="2363.4" cy="438.7" r="2.7"/><circle cx="2369.8" cy="438.7" r="2.7"/><circle cx="2376.2" cy="438.7" r="2.7"/><circle cx="2382.6" cy="438.7" r="2.7"/><circle cx="2388.9" cy="438.7" r="2.7"/><circle cx="2395.3" cy="438.7" r="2.7"/><circle cx="2401.7" cy="438.7" r="2.7"/><circle cx="2140.0" cy="445.1" r="2.7"/><circle cx="2146.4" cy="445.1" r="2.7"/><circle cx="2152.8" cy="445.1" r="2.7"/><circle cx="2159.1" cy="445.1" r="2.7"/><circle cx="2165.5" cy="445.1" r="2.7"/><circle cx="2171.9" cy="445.1" r="2.7"/><circle cx="2178.3" cy="445.1" r="2.7"/><circle cx="2203.8" cy="445.1" r="2.7"/><circle cx="2210.2" cy="445.1" r="2.7"/><circle cx="2216.6" cy="445.1" r="2.7"/><circle cx="2223.0" cy="445.1" r="2.7"/><circle cx="2229.4" cy="445.1" r="2.7"/><circle cx="2235.7" cy="445.1" r="2.7"/><circle cx="2242.1" cy="445.1" r="2.7"/><circle cx="2248.5" cy="445.1" r="2.7"/><circle cx="2254.9" cy="445.1" r="2.7"/><circle cx="2261.3" cy="445.1" r="2.7"/><circle cx="2267.7" cy="445.1" r="2.7"/><circle cx="2274.0" cy="445.1" r="2.7"/><circle cx="2280.4" cy="445.1" r="2.7"/><circle cx="2286.8" cy="445.1" r="2.7"/><circle cx="2293.2" cy="445.1" r="2.7"/><circle cx="2299.6" cy="445.1" r="2.7"/><circle cx="2306.0" cy="445.1" r="2.7"/><circle cx="2312.3" cy="445.1" r="2.7"/><circle cx="2318.7" cy="445.1" r="2.7"/><circle cx="2325.1" cy="445.1" r="2.7"/><circle cx="2331.5" cy="445.1" r="2.7"/><circle cx="2337.9" cy="445.1" r="2.7"/><circle cx="2344.3" cy="445.1" r="2.7"/><circle cx="2350.6" cy="445.1" r="2.7"/><circle cx="2357.0" cy="445.1" r="2.7"/><circle cx="2363.4" cy="445.1" r="2.7"/><circle cx="2369.8" cy="445.1" r="2.7"/><circle cx="2376.2" cy="445.1" r="2.7"/><circle cx="2382.6" cy="445.1" r="2.7"/><circle cx="2388.9" cy="445.1" r="2.7"/><circle cx="2395.3" cy="445.1" r="2.7"/><circle cx="2401.7" cy="445.1" r="2.7"/><circle cx="2152.8" cy="451.5" r="2.7"/><circle cx="2159.1" cy="451.5" r="2.7"/><circle cx="2165.5" cy="451.5" r="2.7"/><circle cx="2171.9" cy="451.5" r="2.7"/><circle cx="2197.4" cy="451.5" r="2.7"/><circle cx="2203.8" cy="451.5" r="2.7"/><circle cx="2210.2" cy="451.5" r="2.7"/><circle cx="2216.6" cy="451.5" r="2.7"/><circle cx="2223.0" cy="451.5" r="2.7"/><circle cx="2229.4" cy="451.5" r="2.7"/><circle cx="2235.7" cy="451.5" r="2.7"/><circle cx="2242.1" cy="451.5" r="2.7"/><circle cx="2248.5" cy="451.5" r="2.7"/><circle cx="2254.9" cy="451.5" r="2.7"/><circle cx="2261.3" cy="451.5" r="2.7"/><circle cx="2267.7" cy="451.5" r="2.7"/><circle cx="2274.0" cy="451.5" r="2.7"/><circle cx="2280.4" cy="451.5" r="2.7"/><circle cx="2286.8" cy="451.5" r="2.7"/><circle cx="2293.2" cy="451.5" r="2.7"/><circle cx="2299.6" cy="451.5" r="2.7"/><circle cx="2306.0" cy="451.5" r="2.7"/><circle cx="2312.3" cy="451.5" r="2.7"/><circle cx="2318.7" cy="451.5" r="2.7"/><circle cx="2325.1" cy="451.5" r="2.7"/><circle cx="2331.5" cy="451.5" r="2.7"/><circle cx="2337.9" cy="451.5" r="2.7"/><circle cx="2344.3" cy="451.5" r="2.7"/><circle cx="2350.6" cy="451.5" r="2.7"/><circle cx="2357.0" cy="451.5" r="2.7"/><circle cx="2363.4" cy="451.5" r="2.7"/><circle cx="2369.8" cy="451.5" r="2.7"/><circle cx="2376.2" cy="451.5" r="2.7"/><circle cx="2382.6" cy="451.5" r="2.7"/><circle cx="2388.9" cy="451.5" r="2.7"/><circle cx="2395.3" cy="451.5" r="2.7"/><circle cx="2401.7" cy="451.5" r="2.7"/><circle cx="2140.0" cy="457.9" r="2.7"/><circle cx="2146.4" cy="457.9" r="2.7"/><circle cx="2152.8" cy="457.9" r="2.7"/><circle cx="2159.1" cy="457.9" r="2.7"/><circle cx="2165.5" cy="457.9" r="2.7"/><circle cx="2171.9" cy="457.9" r="2.7"/><circle cx="2178.3" cy="457.9" r="2.7"/><circle cx="2191.1" cy="457.9" r="2.7"/><circle cx="2197.4" cy="457.9" r="2.7"/><circle cx="2203.8" cy="457.9" r="2.7"/><circle cx="2210.2" cy="457.9" r="2.7"/><circle cx="2216.6" cy="457.9" r="2.7"/><circle cx="2223.0" cy="457.9" r="2.7"/><circle cx="2229.4" cy="457.9" r="2.7"/><circle cx="2235.7" cy="457.9" r="2.7"/><circle cx="2242.1" cy="457.9" r="2.7"/><circle cx="2248.5" cy="457.9" r="2.7"/><circle cx="2254.9" cy="457.9" r="2.7"/><circle cx="2261.3" cy="457.9" r="2.7"/><circle cx="2267.7" cy="457.9" r="2.7"/><circle cx="2274.0" cy="457.9" r="2.7"/><circle cx="2280.4" cy="457.9" r="2.7"/><circle cx="2286.8" cy="457.9" r="2.7"/><circle cx="2293.2" cy="457.9" r="2.7"/><circle cx="2299.6" cy="457.9" r="2.7"/><circle cx="2306.0" cy="457.9" r="2.7"/><circle cx="2312.3" cy="457.9" r="2.7"/><circle cx="2318.7" cy="457.9" r="2.7"/><circle cx="2325.1" cy="457.9" r="2.7"/><circle cx="2331.5" cy="457.9" r="2.7"/><circle cx="2337.9" cy="457.9" r="2.7"/><circle cx="2344.3" cy="457.9" r="2.7"/><circle cx="2350.6" cy="457.9" r="2.7"/><circle cx="2357.0" cy="457.9" r="2.7"/><circle cx="2363.4" cy="457.9" r="2.7"/><circle cx="2369.8" cy="457.9" r="2.7"/><circle cx="2376.2" cy="457.9" r="2.7"/><circle cx="2382.6" cy="457.9" r="2.7"/><circle cx="2388.9" cy="457.9" r="2.7"/><circle cx="2395.3" cy="457.9" r="2.7"/><circle cx="2401.7" cy="457.9" r="2.7"/><circle cx="2184.7" cy="464.3" r="2.7"/><circle cx="2191.1" cy="464.3" r="2.7"/><circle cx="2197.4" cy="464.3" r="2.7"/><circle cx="2203.8" cy="464.3" r="2.7"/><circle cx="2210.2" cy="464.3" r="2.7"/><circle cx="2216.6" cy="464.3" r="2.7"/><circle cx="2223.0" cy="464.3" r="2.7"/><circle cx="2229.4" cy="464.3" r="2.7"/><circle cx="2235.7" cy="464.3" r="2.7"/><circle cx="2242.1" cy="464.3" r="2.7"/><circle cx="2248.5" cy="464.3" r="2.7"/><circle cx="2254.9" cy="464.3" r="2.7"/><circle cx="2261.3" cy="464.3" r="2.7"/><circle cx="2267.7" cy="464.3" r="2.7"/><circle cx="2274.0" cy="464.3" r="2.7"/><circle cx="2280.4" cy="464.3" r="2.7"/><circle cx="2286.8" cy="464.3" r="2.7"/><circle cx="2293.2" cy="464.3" r="2.7"/><circle cx="2299.6" cy="464.3" r="2.7"/><circle cx="2306.0" cy="464.3" r="2.7"/><circle cx="2312.3" cy="464.3" r="2.7"/><circle cx="2318.7" cy="464.3" r="2.7"/><circle cx="2325.1" cy="464.3" r="2.7"/><circle cx="2331.5" cy="464.3" r="2.7"/><circle cx="2337.9" cy="464.3" r="2.7"/><circle cx="2344.3" cy="464.3" r="2.7"/><circle cx="2350.6" cy="464.3" r="2.7"/><circle cx="2357.0" cy="464.3" r="2.7"/><circle cx="2363.4" cy="464.3" r="2.7"/><circle cx="2369.8" cy="464.3" r="2.7"/><circle cx="2376.2" cy="464.3" r="2.7"/><circle cx="2382.6" cy="464.3" r="2.7"/><circle cx="2388.9" cy="464.3" r="2.7"/><circle cx="2395.3" cy="464.3" r="2.7"/><circle cx="2401.7" cy="464.3" r="2.7"/><circle cx="2171.9" cy="470.6" r="2.7"/><circle cx="2178.3" cy="470.6" r="2.7"/><circle cx="2184.7" cy="470.6" r="2.7"/><circle cx="2191.1" cy="470.6" r="2.7"/><circle cx="2197.4" cy="470.6" r="2.7"/><circle cx="2203.8" cy="470.6" r="2.7"/><circle cx="2210.2" cy="470.6" r="2.7"/><circle cx="2216.6" cy="470.6" r="2.7"/><circle cx="2223.0" cy="470.6" r="2.7"/><circle cx="2229.4" cy="470.6" r="2.7"/><circle cx="2235.7" cy="470.6" r="2.7"/><circle cx="2242.1" cy="470.6" r="2.7"/><circle cx="2248.5" cy="470.6" r="2.7"/><circle cx="2254.9" cy="470.6" r="2.7"/><circle cx="2261.3" cy="470.6" r="2.7"/><circle cx="2267.7" cy="470.6" r="2.7"/><circle cx="2274.0" cy="470.6" r="2.7"/><circle cx="2280.4" cy="470.6" r="2.7"/><circle cx="2286.8" cy="470.6" r="2.7"/><circle cx="2293.2" cy="470.6" r="2.7"/><circle cx="2299.6" cy="470.6" r="2.7"/><circle cx="2306.0" cy="470.6" r="2.7"/><circle cx="2312.3" cy="470.6" r="2.7"/><circle cx="2318.7" cy="470.6" r="2.7"/><circle cx="2325.1" cy="470.6" r="2.7"/><circle cx="2331.5" cy="470.6" r="2.7"/><circle cx="2337.9" cy="470.6" r="2.7"/><circle cx="2344.3" cy="470.6" r="2.7"/><circle cx="2350.6" cy="470.6" r="2.7"/><circle cx="2357.0" cy="470.6" r="2.7"/><circle cx="2363.4" cy="470.6" r="2.7"/><circle cx="2369.8" cy="470.6" r="2.7"/><circle cx="2376.2" cy="470.6" r="2.7"/><circle cx="2382.6" cy="470.6" r="2.7"/><circle cx="2388.9" cy="470.6" r="2.7"/><circle cx="2395.3" cy="470.6" r="2.7"/><circle cx="2401.7" cy="470.6" r="2.7"/><circle cx="2159.1" cy="477.0" r="2.7"/><circle cx="2165.5" cy="477.0" r="2.7"/><circle cx="2171.9" cy="477.0" r="2.7"/><circle cx="2178.3" cy="477.0" r="2.7"/><circle cx="2184.7" cy="477.0" r="2.7"/><circle cx="2191.1" cy="477.0" r="2.7"/><circle cx="2197.4" cy="477.0" r="2.7"/><circle cx="2203.8" cy="477.0" r="2.7"/><circle cx="2210.2" cy="477.0" r="2.7"/><circle cx="2216.6" cy="477.0" r="2.7"/><circle cx="2223.0" cy="477.0" r="2.7"/><circle cx="2229.4" cy="477.0" r="2.7"/><circle cx="2235.7" cy="477.0" r="2.7"/><circle cx="2242.1" cy="477.0" r="2.7"/><circle cx="2248.5" cy="477.0" r="2.7"/><circle cx="2254.9" cy="477.0" r="2.7"/><circle cx="2261.3" cy="477.0" r="2.7"/><circle cx="2267.7" cy="477.0" r="2.7"/><circle cx="2274.0" cy="477.0" r="2.7"/><circle cx="2280.4" cy="477.0" r="2.7"/><circle cx="2286.8" cy="477.0" r="2.7"/><circle cx="2293.2" cy="477.0" r="2.7"/><circle cx="2299.6" cy="477.0" r="2.7"/><circle cx="2306.0" cy="477.0" r="2.7"/><circle cx="2312.3" cy="477.0" r="2.7"/><circle cx="2318.7" cy="477.0" r="2.7"/><circle cx="2325.1" cy="477.0" r="2.7"/><circle cx="2331.5" cy="477.0" r="2.7"/><circle cx="2337.9" cy="477.0" r="2.7"/><circle cx="2344.3" cy="477.0" r="2.7"/><circle cx="2350.6" cy="477.0" r="2.7"/><circle cx="2357.0" cy="477.0" r="2.7"/><circle cx="2363.4" cy="477.0" r="2.7"/><circle cx="2369.8" cy="477.0" r="2.7"/><circle cx="2376.2" cy="477.0" r="2.7"/><circle cx="2382.6" cy="477.0" r="2.7"/><circle cx="2388.9" cy="477.0" r="2.7"/><circle cx="2395.3" cy="477.0" r="2.7"/><circle cx="2401.7" cy="477.0" r="2.7"/><circle cx="2133.6" cy="483.4" r="2.7"/><circle cx="2140.0" cy="483.4" r="2.7"/><circle cx="2146.4" cy="483.4" r="2.7"/><circle cx="2152.8" cy="483.4" r="2.7"/><circle cx="2159.1" cy="483.4" r="2.7"/><circle cx="2165.5" cy="483.4" r="2.7"/><circle cx="2171.9" cy="483.4" r="2.7"/><circle cx="2178.3" cy="483.4" r="2.7"/><circle cx="2184.7" cy="483.4" r="2.7"/><circle cx="2191.1" cy="483.4" r="2.7"/><circle cx="2197.4" cy="483.4" r="2.7"/><circle cx="2203.8" cy="483.4" r="2.7"/><circle cx="2210.2" cy="483.4" r="2.7"/><circle cx="2216.6" cy="483.4" r="2.7"/><circle cx="2223.0" cy="483.4" r="2.7"/><circle cx="2229.4" cy="483.4" r="2.7"/><circle cx="2235.7" cy="483.4" r="2.7"/><circle cx="2242.1" cy="483.4" r="2.7"/><circle cx="2248.5" cy="483.4" r="2.7"/><circle cx="2254.9" cy="483.4" r="2.7"/><circle cx="2261.3" cy="483.4" r="2.7"/><circle cx="2267.7" cy="483.4" r="2.7"/><circle cx="2274.0" cy="483.4" r="2.7"/><circle cx="2280.4" cy="483.4" r="2.7"/><circle cx="2286.8" cy="483.4" r="2.7"/><circle cx="2293.2" cy="483.4" r="2.7"/><circle cx="2299.6" cy="483.4" r="2.7"/><circle cx="2306.0" cy="483.4" r="2.7"/><circle cx="2312.3" cy="483.4" r="2.7"/><circle cx="2318.7" cy="483.4" r="2.7"/><circle cx="2325.1" cy="483.4" r="2.7"/><circle cx="2331.5" cy="483.4" r="2.7"/><circle cx="2337.9" cy="483.4" r="2.7"/><circle cx="2344.3" cy="483.4" r="2.7"/><circle cx="2350.6" cy="483.4" r="2.7"/><circle cx="2357.0" cy="483.4" r="2.7"/><circle cx="2363.4" cy="483.4" r="2.7"/><circle cx="2369.8" cy="483.4" r="2.7"/><circle cx="2376.2" cy="483.4" r="2.7"/><circle cx="2382.6" cy="483.4" r="2.7"/><circle cx="2388.9" cy="483.4" r="2.7"/><circle cx="2395.3" cy="483.4" r="2.7"/><circle cx="2401.7" cy="483.4" r="2.7"/><circle cx="2146.4" cy="489.8" r="2.7"/><circle cx="2152.8" cy="489.8" r="2.7"/><circle cx="2159.1" cy="489.8" r="2.7"/><circle cx="2165.5" cy="489.8" r="2.7"/><circle cx="2171.9" cy="489.8" r="2.7"/><circle cx="2178.3" cy="489.8" r="2.7"/><circle cx="2184.7" cy="489.8" r="2.7"/><circle cx="2191.1" cy="489.8" r="2.7"/><circle cx="2197.4" cy="489.8" r="2.7"/><circle cx="2203.8" cy="489.8" r="2.7"/><circle cx="2210.2" cy="489.8" r="2.7"/><circle cx="2216.6" cy="489.8" r="2.7"/><circle cx="2223.0" cy="489.8" r="2.7"/><circle cx="2229.4" cy="489.8" r="2.7"/><circle cx="2235.7" cy="489.8" r="2.7"/><circle cx="2242.1" cy="489.8" r="2.7"/><circle cx="2248.5" cy="489.8" r="2.7"/><circle cx="2254.9" cy="489.8" r="2.7"/><circle cx="2261.3" cy="489.8" r="2.7"/><circle cx="2267.7" cy="489.8" r="2.7"/><circle cx="2274.0" cy="489.8" r="2.7"/><circle cx="2280.4" cy="489.8" r="2.7"/><circle cx="2286.8" cy="489.8" r="2.7"/><circle cx="2293.2" cy="489.8" r="2.7"/><circle cx="2299.6" cy="489.8" r="2.7"/><circle cx="2306.0" cy="489.8" r="2.7"/><circle cx="2312.3" cy="489.8" r="2.7"/><circle cx="2318.7" cy="489.8" r="2.7"/><circle cx="2325.1" cy="489.8" r="2.7"/><circle cx="2331.5" cy="489.8" r="2.7"/><circle cx="2337.9" cy="489.8" r="2.7"/><circle cx="2344.3" cy="489.8" r="2.7"/><circle cx="2350.6" cy="489.8" r="2.7"/><circle cx="2357.0" cy="489.8" r="2.7"/><circle cx="2363.4" cy="489.8" r="2.7"/><circle cx="2369.8" cy="489.8" r="2.7"/><circle cx="2376.2" cy="489.8" r="2.7"/><circle cx="2382.6" cy="489.8" r="2.7"/><circle cx="2395.3" cy="489.8" r="2.7"/><circle cx="2401.7" cy="489.8" r="2.7"/><circle cx="2152.8" cy="496.2" r="2.7"/><circle cx="2159.1" cy="496.2" r="2.7"/><circle cx="2165.5" cy="496.2" r="2.7"/><circle cx="2171.9" cy="496.2" r="2.7"/><circle cx="2178.3" cy="496.2" r="2.7"/><circle cx="2184.7" cy="496.2" r="2.7"/><circle cx="2191.1" cy="496.2" r="2.7"/><circle cx="2197.4" cy="496.2" r="2.7"/><circle cx="2203.8" cy="496.2" r="2.7"/><circle cx="2210.2" cy="496.2" r="2.7"/><circle cx="2216.6" cy="496.2" r="2.7"/><circle cx="2223.0" cy="496.2" r="2.7"/><circle cx="2229.4" cy="496.2" r="2.7"/><circle cx="2235.7" cy="496.2" r="2.7"/><circle cx="2242.1" cy="496.2" r="2.7"/><circle cx="2248.5" cy="496.2" r="2.7"/><circle cx="2254.9" cy="496.2" r="2.7"/><circle cx="2261.3" cy="496.2" r="2.7"/><circle cx="2267.7" cy="496.2" r="2.7"/><circle cx="2274.0" cy="496.2" r="2.7"/><circle cx="2280.4" cy="496.2" r="2.7"/><circle cx="2286.8" cy="496.2" r="2.7"/><circle cx="2293.2" cy="496.2" r="2.7"/><circle cx="2299.6" cy="496.2" r="2.7"/><circle cx="2306.0" cy="496.2" r="2.7"/><circle cx="2312.3" cy="496.2" r="2.7"/><circle cx="2318.7" cy="496.2" r="2.7"/><circle cx="2325.1" cy="496.2" r="2.7"/><circle cx="2331.5" cy="496.2" r="2.7"/><circle cx="2337.9" cy="496.2" r="2.7"/><circle cx="2344.3" cy="496.2" r="2.7"/><circle cx="2350.6" cy="496.2" r="2.7"/><circle cx="2357.0" cy="496.2" r="2.7"/><circle cx="2363.4" cy="496.2" r="2.7"/><circle cx="2369.8" cy="496.2" r="2.7"/><circle cx="2376.2" cy="496.2" r="2.7"/><circle cx="2382.6" cy="496.2" r="2.7"/><circle cx="2152.8" cy="502.6" r="2.7"/><circle cx="2159.1" cy="502.6" r="2.7"/><circle cx="2165.5" cy="502.6" r="2.7"/><circle cx="2171.9" cy="502.6" r="2.7"/><circle cx="2178.3" cy="502.6" r="2.7"/><circle cx="2184.7" cy="502.6" r="2.7"/><circle cx="2191.1" cy="502.6" r="2.7"/><circle cx="2197.4" cy="502.6" r="2.7"/><circle cx="2203.8" cy="502.6" r="2.7"/><circle cx="2210.2" cy="502.6" r="2.7"/><circle cx="2216.6" cy="502.6" r="2.7"/><circle cx="2223.0" cy="502.6" r="2.7"/><circle cx="2229.4" cy="502.6" r="2.7"/><circle cx="2235.7" cy="502.6" r="2.7"/><circle cx="2242.1" cy="502.6" r="2.7"/><circle cx="2248.5" cy="502.6" r="2.7"/><circle cx="2254.9" cy="502.6" r="2.7"/><circle cx="2261.3" cy="502.6" r="2.7"/><circle cx="2267.7" cy="502.6" r="2.7"/><circle cx="2274.0" cy="502.6" r="2.7"/><circle cx="2280.4" cy="502.6" r="2.7"/><circle cx="2286.8" cy="502.6" r="2.7"/><circle cx="2293.2" cy="502.6" r="2.7"/><circle cx="2299.6" cy="502.6" r="2.7"/><circle cx="2306.0" cy="502.6" r="2.7"/><circle cx="2312.3" cy="502.6" r="2.7"/><circle cx="2318.7" cy="502.6" r="2.7"/><circle cx="2325.1" cy="502.6" r="2.7"/><circle cx="2331.5" cy="502.6" r="2.7"/><circle cx="2337.9" cy="502.6" r="2.7"/><circle cx="2344.3" cy="502.6" r="2.7"/><circle cx="2350.6" cy="502.6" r="2.7"/><circle cx="2357.0" cy="502.6" r="2.7"/><circle cx="2363.4" cy="502.6" r="2.7"/><circle cx="2369.8" cy="502.6" r="2.7"/><circle cx="2376.2" cy="502.6" r="2.7"/><circle cx="2152.8" cy="508.9" r="2.7"/><circle cx="2159.1" cy="508.9" r="2.7"/><circle cx="2165.5" cy="508.9" r="2.7"/><circle cx="2171.9" cy="508.9" r="2.7"/><circle cx="2178.3" cy="508.9" r="2.7"/><circle cx="2184.7" cy="508.9" r="2.7"/><circle cx="2191.1" cy="508.9" r="2.7"/><circle cx="2197.4" cy="508.9" r="2.7"/><circle cx="2203.8" cy="508.9" r="2.7"/><circle cx="2210.2" cy="508.9" r="2.7"/><circle cx="2216.6" cy="508.9" r="2.7"/><circle cx="2223.0" cy="508.9" r="2.7"/><circle cx="2229.4" cy="508.9" r="2.7"/><circle cx="2235.7" cy="508.9" r="2.7"/><circle cx="2242.1" cy="508.9" r="2.7"/><circle cx="2248.5" cy="508.9" r="2.7"/><circle cx="2254.9" cy="508.9" r="2.7"/><circle cx="2261.3" cy="508.9" r="2.7"/><circle cx="2267.7" cy="508.9" r="2.7"/><circle cx="2274.0" cy="508.9" r="2.7"/><circle cx="2280.4" cy="508.9" r="2.7"/><circle cx="2286.8" cy="508.9" r="2.7"/><circle cx="2293.2" cy="508.9" r="2.7"/><circle cx="2299.6" cy="508.9" r="2.7"/><circle cx="2306.0" cy="508.9" r="2.7"/><circle cx="2312.3" cy="508.9" r="2.7"/><circle cx="2318.7" cy="508.9" r="2.7"/><circle cx="2325.1" cy="508.9" r="2.7"/><circle cx="2331.5" cy="508.9" r="2.7"/><circle cx="2337.9" cy="508.9" r="2.7"/><circle cx="2344.3" cy="508.9" r="2.7"/><circle cx="2350.6" cy="508.9" r="2.7"/><circle cx="2357.0" cy="508.9" r="2.7"/><circle cx="2363.4" cy="508.9" r="2.7"/><circle cx="2369.8" cy="508.9" r="2.7"/><circle cx="2376.2" cy="508.9" r="2.7"/><circle cx="2382.6" cy="508.9" r="2.7"/><circle cx="2152.8" cy="515.3" r="2.7"/><circle cx="2159.1" cy="515.3" r="2.7"/><circle cx="2165.5" cy="515.3" r="2.7"/><circle cx="2171.9" cy="515.3" r="2.7"/><circle cx="2178.3" cy="515.3" r="2.7"/><circle cx="2184.7" cy="515.3" r="2.7"/><circle cx="2191.1" cy="515.3" r="2.7"/><circle cx="2197.4" cy="515.3" r="2.7"/><circle cx="2203.8" cy="515.3" r="2.7"/><circle cx="2210.2" cy="515.3" r="2.7"/><circle cx="2216.6" cy="515.3" r="2.7"/><circle cx="2223.0" cy="515.3" r="2.7"/><circle cx="2229.4" cy="515.3" r="2.7"/><circle cx="2235.7" cy="515.3" r="2.7"/><circle cx="2242.1" cy="515.3" r="2.7"/><circle cx="2248.5" cy="515.3" r="2.7"/><circle cx="2254.9" cy="515.3" r="2.7"/><circle cx="2261.3" cy="515.3" r="2.7"/><circle cx="2267.7" cy="515.3" r="2.7"/><circle cx="2274.0" cy="515.3" r="2.7"/><circle cx="2280.4" cy="515.3" r="2.7"/><circle cx="2286.8" cy="515.3" r="2.7"/><circle cx="2293.2" cy="515.3" r="2.7"/><circle cx="2299.6" cy="515.3" r="2.7"/><circle cx="2306.0" cy="515.3" r="2.7"/><circle cx="2312.3" cy="515.3" r="2.7"/><circle cx="2318.7" cy="515.3" r="2.7"/><circle cx="2325.1" cy="515.3" r="2.7"/><circle cx="2331.5" cy="515.3" r="2.7"/><circle cx="2337.9" cy="515.3" r="2.7"/><circle cx="2344.3" cy="515.3" r="2.7"/><circle cx="2350.6" cy="515.3" r="2.7"/><circle cx="2357.0" cy="515.3" r="2.7"/><circle cx="2363.4" cy="515.3" r="2.7"/><circle cx="2369.8" cy="515.3" r="2.7"/><circle cx="2376.2" cy="515.3" r="2.7"/><circle cx="2152.8" cy="521.7" r="2.7"/><circle cx="2159.1" cy="521.7" r="2.7"/><circle cx="2165.5" cy="521.7" r="2.7"/><circle cx="2171.9" cy="521.7" r="2.7"/><circle cx="2178.3" cy="521.7" r="2.7"/><circle cx="2184.7" cy="521.7" r="2.7"/><circle cx="2191.1" cy="521.7" r="2.7"/><circle cx="2197.4" cy="521.7" r="2.7"/><circle cx="2203.8" cy="521.7" r="2.7"/><circle cx="2210.2" cy="521.7" r="2.7"/><circle cx="2216.6" cy="521.7" r="2.7"/><circle cx="2223.0" cy="521.7" r="2.7"/><circle cx="2229.4" cy="521.7" r="2.7"/><circle cx="2235.7" cy="521.7" r="2.7"/><circle cx="2242.1" cy="521.7" r="2.7"/><circle cx="2248.5" cy="521.7" r="2.7"/><circle cx="2267.7" cy="521.7" r="2.7"/><circle cx="2274.0" cy="521.7" r="2.7"/><circle cx="2280.4" cy="521.7" r="2.7"/><circle cx="2286.8" cy="521.7" r="2.7"/><circle cx="2293.2" cy="521.7" r="2.7"/><circle cx="2299.6" cy="521.7" r="2.7"/><circle cx="2306.0" cy="521.7" r="2.7"/><circle cx="2312.3" cy="521.7" r="2.7"/><circle cx="2318.7" cy="521.7" r="2.7"/><circle cx="2325.1" cy="521.7" r="2.7"/><circle cx="2331.5" cy="521.7" r="2.7"/><circle cx="2337.9" cy="521.7" r="2.7"/><circle cx="2344.3" cy="521.7" r="2.7"/><circle cx="2350.6" cy="521.7" r="2.7"/><circle cx="2357.0" cy="521.7" r="2.7"/><circle cx="2363.4" cy="521.7" r="2.7"/><circle cx="2369.8" cy="521.7" r="2.7"/><circle cx="2376.2" cy="521.7" r="2.7"/><circle cx="2088.9" cy="528.1" r="2.7"/><circle cx="2095.3" cy="528.1" r="2.7"/><circle cx="2101.7" cy="528.1" r="2.7"/><circle cx="2108.1" cy="528.1" r="2.7"/><circle cx="2114.5" cy="528.1" r="2.7"/><circle cx="2152.8" cy="528.1" r="2.7"/><circle cx="2159.1" cy="528.1" r="2.7"/><circle cx="2165.5" cy="528.1" r="2.7"/><circle cx="2171.9" cy="528.1" r="2.7"/><circle cx="2178.3" cy="528.1" r="2.7"/><circle cx="2184.7" cy="528.1" r="2.7"/><circle cx="2191.1" cy="528.1" r="2.7"/><circle cx="2197.4" cy="528.1" r="2.7"/><circle cx="2203.8" cy="528.1" r="2.7"/><circle cx="2210.2" cy="528.1" r="2.7"/><circle cx="2216.6" cy="528.1" r="2.7"/><circle cx="2223.0" cy="528.1" r="2.7"/><circle cx="2229.4" cy="528.1" r="2.7"/><circle cx="2235.7" cy="528.1" r="2.7"/><circle cx="2242.1" cy="528.1" r="2.7"/><circle cx="2248.5" cy="528.1" r="2.7"/><circle cx="2274.0" cy="528.1" r="2.7"/><circle cx="2280.4" cy="528.1" r="2.7"/><circle cx="2286.8" cy="528.1" r="2.7"/><circle cx="2293.2" cy="528.1" r="2.7"/><circle cx="2299.6" cy="528.1" r="2.7"/><circle cx="2306.0" cy="528.1" r="2.7"/><circle cx="2312.3" cy="528.1" r="2.7"/><circle cx="2318.7" cy="528.1" r="2.7"/><circle cx="2325.1" cy="528.1" r="2.7"/><circle cx="2331.5" cy="528.1" r="2.7"/><circle cx="2337.9" cy="528.1" r="2.7"/><circle cx="2344.3" cy="528.1" r="2.7"/><circle cx="2350.6" cy="528.1" r="2.7"/><circle cx="2357.0" cy="528.1" r="2.7"/><circle cx="2363.4" cy="528.1" r="2.7"/><circle cx="2369.8" cy="528.1" r="2.7"/><circle cx="2376.2" cy="528.1" r="2.7"/><circle cx="2088.9" cy="534.5" r="2.7"/><circle cx="2095.3" cy="534.5" r="2.7"/><circle cx="2101.7" cy="534.5" r="2.7"/><circle cx="2108.1" cy="534.5" r="2.7"/><circle cx="2114.5" cy="534.5" r="2.7"/><circle cx="2120.8" cy="534.5" r="2.7"/><circle cx="2127.2" cy="534.5" r="2.7"/><circle cx="2133.6" cy="534.5" r="2.7"/><circle cx="2152.8" cy="534.5" r="2.7"/><circle cx="2159.1" cy="534.5" r="2.7"/><circle cx="2165.5" cy="534.5" r="2.7"/><circle cx="2171.9" cy="534.5" r="2.7"/><circle cx="2178.3" cy="534.5" r="2.7"/><circle cx="2184.7" cy="534.5" r="2.7"/><circle cx="2191.1" cy="534.5" r="2.7"/><circle cx="2197.4" cy="534.5" r="2.7"/><circle cx="2203.8" cy="534.5" r="2.7"/><circle cx="2210.2" cy="534.5" r="2.7"/><circle cx="2216.6" cy="534.5" r="2.7"/><circle cx="2223.0" cy="534.5" r="2.7"/><circle cx="2235.7" cy="534.5" r="2.7"/><circle cx="2242.1" cy="534.5" r="2.7"/><circle cx="2248.5" cy="534.5" r="2.7"/><circle cx="2274.0" cy="534.5" r="2.7"/><circle cx="2280.4" cy="534.5" r="2.7"/><circle cx="2286.8" cy="534.5" r="2.7"/><circle cx="2293.2" cy="534.5" r="2.7"/><circle cx="2299.6" cy="534.5" r="2.7"/><circle cx="2306.0" cy="534.5" r="2.7"/><circle cx="2312.3" cy="534.5" r="2.7"/><circle cx="2318.7" cy="534.5" r="2.7"/><circle cx="2325.1" cy="534.5" r="2.7"/><circle cx="2331.5" cy="534.5" r="2.7"/><circle cx="2337.9" cy="534.5" r="2.7"/><circle cx="2344.3" cy="534.5" r="2.7"/><circle cx="2350.6" cy="534.5" r="2.7"/><circle cx="2357.0" cy="534.5" r="2.7"/><circle cx="2363.4" cy="534.5" r="2.7"/><circle cx="2369.8" cy="534.5" r="2.7"/><circle cx="2088.9" cy="540.8" r="2.7"/><circle cx="2095.3" cy="540.8" r="2.7"/><circle cx="2101.7" cy="540.8" r="2.7"/><circle cx="2108.1" cy="540.8" r="2.7"/><circle cx="2114.5" cy="540.8" r="2.7"/><circle cx="2120.8" cy="540.8" r="2.7"/><circle cx="2127.2" cy="540.8" r="2.7"/><circle cx="2133.6" cy="540.8" r="2.7"/><circle cx="2140.0" cy="540.8" r="2.7"/><circle cx="2146.4" cy="540.8" r="2.7"/><circle cx="2152.8" cy="540.8" r="2.7"/><circle cx="2159.1" cy="540.8" r="2.7"/><circle cx="2165.5" cy="540.8" r="2.7"/><circle cx="2171.9" cy="540.8" r="2.7"/><circle cx="2178.3" cy="540.8" r="2.7"/><circle cx="2184.7" cy="540.8" r="2.7"/><circle cx="2191.1" cy="540.8" r="2.7"/><circle cx="2197.4" cy="540.8" r="2.7"/><circle cx="2203.8" cy="540.8" r="2.7"/><circle cx="2210.2" cy="540.8" r="2.7"/><circle cx="2242.1" cy="540.8" r="2.7"/><circle cx="2248.5" cy="540.8" r="2.7"/><circle cx="2254.9" cy="540.8" r="2.7"/><circle cx="2261.3" cy="540.8" r="2.7"/><circle cx="2293.2" cy="540.8" r="2.7"/><circle cx="2299.6" cy="540.8" r="2.7"/><circle cx="2306.0" cy="540.8" r="2.7"/><circle cx="2312.3" cy="540.8" r="2.7"/><circle cx="2318.7" cy="540.8" r="2.7"/><circle cx="2325.1" cy="540.8" r="2.7"/><circle cx="2331.5" cy="540.8" r="2.7"/><circle cx="2337.9" cy="540.8" r="2.7"/><circle cx="2344.3" cy="540.8" r="2.7"/><circle cx="2350.6" cy="540.8" r="2.7"/><circle cx="2357.0" cy="540.8" r="2.7"/><circle cx="2363.4" cy="540.8" r="2.7"/><circle cx="2369.8" cy="540.8" r="2.7"/><circle cx="2376.2" cy="540.8" r="2.7"/><circle cx="2088.9" cy="547.2" r="2.7"/><circle cx="2095.3" cy="547.2" r="2.7"/><circle cx="2101.7" cy="547.2" r="2.7"/><circle cx="2108.1" cy="547.2" r="2.7"/><circle cx="2114.5" cy="547.2" r="2.7"/><circle cx="2120.8" cy="547.2" r="2.7"/><circle cx="2127.2" cy="547.2" r="2.7"/><circle cx="2133.6" cy="547.2" r="2.7"/><circle cx="2140.0" cy="547.2" r="2.7"/><circle cx="2146.4" cy="547.2" r="2.7"/><circle cx="2152.8" cy="547.2" r="2.7"/><circle cx="2159.1" cy="547.2" r="2.7"/><circle cx="2165.5" cy="547.2" r="2.7"/><circle cx="2171.9" cy="547.2" r="2.7"/><circle cx="2178.3" cy="547.2" r="2.7"/><circle cx="2242.1" cy="547.2" r="2.7"/><circle cx="2248.5" cy="547.2" r="2.7"/><circle cx="2254.9" cy="547.2" r="2.7"/><circle cx="2261.3" cy="547.2" r="2.7"/><circle cx="2299.6" cy="547.2" r="2.7"/><circle cx="2306.0" cy="547.2" r="2.7"/><circle cx="2312.3" cy="547.2" r="2.7"/><circle cx="2318.7" cy="547.2" r="2.7"/><circle cx="2325.1" cy="547.2" r="2.7"/><circle cx="2331.5" cy="547.2" r="2.7"/><circle cx="2337.9" cy="547.2" r="2.7"/><circle cx="2344.3" cy="547.2" r="2.7"/><circle cx="2350.6" cy="547.2" r="2.7"/><circle cx="2357.0" cy="547.2" r="2.7"/><circle cx="2363.4" cy="547.2" r="2.7"/><circle cx="2369.8" cy="547.2" r="2.7"/><circle cx="2376.2" cy="547.2" r="2.7"/><circle cx="2382.6" cy="547.2" r="2.7"/><circle cx="2395.3" cy="547.2" r="2.7"/><circle cx="2401.7" cy="547.2" r="2.7"/><circle cx="2088.9" cy="553.6" r="2.7"/><circle cx="2095.3" cy="553.6" r="2.7"/><circle cx="2101.7" cy="553.6" r="2.7"/><circle cx="2108.1" cy="553.6" r="2.7"/><circle cx="2114.5" cy="553.6" r="2.7"/><circle cx="2120.8" cy="553.6" r="2.7"/><circle cx="2127.2" cy="553.6" r="2.7"/><circle cx="2133.6" cy="553.6" r="2.7"/><circle cx="2140.0" cy="553.6" r="2.7"/><circle cx="2146.4" cy="553.6" r="2.7"/><circle cx="2152.8" cy="553.6" r="2.7"/><circle cx="2159.1" cy="553.6" r="2.7"/><circle cx="2165.5" cy="553.6" r="2.7"/><circle cx="2171.9" cy="553.6" r="2.7"/><circle cx="2178.3" cy="553.6" r="2.7"/><circle cx="2229.4" cy="553.6" r="2.7"/><circle cx="2248.5" cy="553.6" r="2.7"/><circle cx="2254.9" cy="553.6" r="2.7"/><circle cx="2261.3" cy="553.6" r="2.7"/><circle cx="2267.7" cy="553.6" r="2.7"/><circle cx="2312.3" cy="553.6" r="2.7"/><circle cx="2318.7" cy="553.6" r="2.7"/><circle cx="2325.1" cy="553.6" r="2.7"/><circle cx="2331.5" cy="553.6" r="2.7"/><circle cx="2337.9" cy="553.6" r="2.7"/><circle cx="2344.3" cy="553.6" r="2.7"/><circle cx="2350.6" cy="553.6" r="2.7"/><circle cx="2357.0" cy="553.6" r="2.7"/><circle cx="2363.4" cy="553.6" r="2.7"/><circle cx="2369.8" cy="553.6" r="2.7"/><circle cx="2376.2" cy="553.6" r="2.7"/><circle cx="2395.3" cy="553.6" r="2.7"/><circle cx="2401.7" cy="553.6" r="2.7"/><circle cx="2082.5" cy="560.0" r="2.7"/><circle cx="2088.9" cy="560.0" r="2.7"/><circle cx="2095.3" cy="560.0" r="2.7"/><circle cx="2101.7" cy="560.0" r="2.7"/><circle cx="2108.1" cy="560.0" r="2.7"/><circle cx="2114.5" cy="560.0" r="2.7"/><circle cx="2120.8" cy="560.0" r="2.7"/><circle cx="2127.2" cy="560.0" r="2.7"/><circle cx="2133.6" cy="560.0" r="2.7"/><circle cx="2140.0" cy="560.0" r="2.7"/><circle cx="2146.4" cy="560.0" r="2.7"/><circle cx="2152.8" cy="560.0" r="2.7"/><circle cx="2159.1" cy="560.0" r="2.7"/><circle cx="2165.5" cy="560.0" r="2.7"/><circle cx="2171.9" cy="560.0" r="2.7"/><circle cx="2229.4" cy="560.0" r="2.7"/><circle cx="2254.9" cy="560.0" r="2.7"/><circle cx="2261.3" cy="560.0" r="2.7"/><circle cx="2267.7" cy="560.0" r="2.7"/><circle cx="2274.0" cy="560.0" r="2.7"/><circle cx="2280.4" cy="560.0" r="2.7"/><circle cx="2312.3" cy="560.0" r="2.7"/><circle cx="2318.7" cy="560.0" r="2.7"/><circle cx="2325.1" cy="560.0" r="2.7"/><circle cx="2331.5" cy="560.0" r="2.7"/><circle cx="2337.9" cy="560.0" r="2.7"/><circle cx="2344.3" cy="560.0" r="2.7"/><circle cx="2350.6" cy="560.0" r="2.7"/><circle cx="2376.2" cy="560.0" r="2.7"/><circle cx="2382.6" cy="560.0" r="2.7"/><circle cx="2388.9" cy="560.0" r="2.7"/><circle cx="2395.3" cy="560.0" r="2.7"/><circle cx="2401.7" cy="560.0" r="2.7"/><circle cx="2076.2" cy="566.4" r="2.7"/><circle cx="2082.5" cy="566.4" r="2.7"/><circle cx="2088.9" cy="566.4" r="2.7"/><circle cx="2095.3" cy="566.4" r="2.7"/><circle cx="2101.7" cy="566.4" r="2.7"/><circle cx="2108.1" cy="566.4" r="2.7"/><circle cx="2114.5" cy="566.4" r="2.7"/><circle cx="2120.8" cy="566.4" r="2.7"/><circle cx="2127.2" cy="566.4" r="2.7"/><circle cx="2133.6" cy="566.4" r="2.7"/><circle cx="2140.0" cy="566.4" r="2.7"/><circle cx="2146.4" cy="566.4" r="2.7"/><circle cx="2152.8" cy="566.4" r="2.7"/><circle cx="2159.1" cy="566.4" r="2.7"/><circle cx="2229.4" cy="566.4" r="2.7"/><circle cx="2261.3" cy="566.4" r="2.7"/><circle cx="2267.7" cy="566.4" r="2.7"/><circle cx="2274.0" cy="566.4" r="2.7"/><circle cx="2280.4" cy="566.4" r="2.7"/><circle cx="2286.8" cy="566.4" r="2.7"/><circle cx="2293.2" cy="566.4" r="2.7"/><circle cx="2312.3" cy="566.4" r="2.7"/><circle cx="2318.7" cy="566.4" r="2.7"/><circle cx="2325.1" cy="566.4" r="2.7"/><circle cx="2331.5" cy="566.4" r="2.7"/><circle cx="2337.9" cy="566.4" r="2.7"/><circle cx="2344.3" cy="566.4" r="2.7"/><circle cx="2350.6" cy="566.4" r="2.7"/><circle cx="2369.8" cy="566.4" r="2.7"/><circle cx="2376.2" cy="566.4" r="2.7"/><circle cx="2382.6" cy="566.4" r="2.7"/><circle cx="2388.9" cy="566.4" r="2.7"/><circle cx="2395.3" cy="566.4" r="2.7"/><circle cx="2401.7" cy="566.4" r="2.7"/><circle cx="2076.2" cy="572.8" r="2.7"/><circle cx="2082.5" cy="572.8" r="2.7"/><circle cx="2088.9" cy="572.8" r="2.7"/><circle cx="2095.3" cy="572.8" r="2.7"/><circle cx="2101.7" cy="572.8" r="2.7"/><circle cx="2108.1" cy="572.8" r="2.7"/><circle cx="2114.5" cy="572.8" r="2.7"/><circle cx="2120.8" cy="572.8" r="2.7"/><circle cx="2127.2" cy="572.8" r="2.7"/><circle cx="2133.6" cy="572.8" r="2.7"/><circle cx="2140.0" cy="572.8" r="2.7"/><circle cx="2146.4" cy="572.8" r="2.7"/><circle cx="2152.8" cy="572.8" r="2.7"/><circle cx="2223.0" cy="572.8" r="2.7"/><circle cx="2229.4" cy="572.8" r="2.7"/><circle cx="2280.4" cy="572.8" r="2.7"/><circle cx="2286.8" cy="572.8" r="2.7"/><circle cx="2293.2" cy="572.8" r="2.7"/><circle cx="2299.6" cy="572.8" r="2.7"/><circle cx="2318.7" cy="572.8" r="2.7"/><circle cx="2325.1" cy="572.8" r="2.7"/><circle cx="2331.5" cy="572.8" r="2.7"/><circle cx="2337.9" cy="572.8" r="2.7"/><circle cx="2369.8" cy="572.8" r="2.7"/><circle cx="2376.2" cy="572.8" r="2.7"/><circle cx="2382.6" cy="572.8" r="2.7"/><circle cx="2388.9" cy="572.8" r="2.7"/><circle cx="2395.3" cy="572.8" r="2.7"/><circle cx="2401.7" cy="572.8" r="2.7"/><circle cx="2082.5" cy="579.1" r="2.7"/><circle cx="2088.9" cy="579.1" r="2.7"/><circle cx="2095.3" cy="579.1" r="2.7"/><circle cx="2101.7" cy="579.1" r="2.7"/><circle cx="2108.1" cy="579.1" r="2.7"/><circle cx="2114.5" cy="579.1" r="2.7"/><circle cx="2120.8" cy="579.1" r="2.7"/><circle cx="2127.2" cy="579.1" r="2.7"/><circle cx="2133.6" cy="579.1" r="2.7"/><circle cx="2140.0" cy="579.1" r="2.7"/><circle cx="2146.4" cy="579.1" r="2.7"/><circle cx="2178.3" cy="579.1" r="2.7"/><circle cx="2223.0" cy="579.1" r="2.7"/><circle cx="2229.4" cy="579.1" r="2.7"/><circle cx="2286.8" cy="579.1" r="2.7"/><circle cx="2293.2" cy="579.1" r="2.7"/><circle cx="2325.1" cy="579.1" r="2.7"/><circle cx="2331.5" cy="579.1" r="2.7"/><circle cx="2337.9" cy="579.1" r="2.7"/><circle cx="2344.3" cy="579.1" r="2.7"/><circle cx="2357.0" cy="579.1" r="2.7"/><circle cx="2376.2" cy="579.1" r="2.7"/><circle cx="2382.6" cy="579.1" r="2.7"/><circle cx="2388.9" cy="579.1" r="2.7"/><circle cx="2395.3" cy="579.1" r="2.7"/><circle cx="2401.7" cy="579.1" r="2.7"/><circle cx="2076.2" cy="585.5" r="2.7"/><circle cx="2082.5" cy="585.5" r="2.7"/><circle cx="2088.9" cy="585.5" r="2.7"/><circle cx="2095.3" cy="585.5" r="2.7"/><circle cx="2101.7" cy="585.5" r="2.7"/><circle cx="2108.1" cy="585.5" r="2.7"/><circle cx="2114.5" cy="585.5" r="2.7"/><circle cx="2120.8" cy="585.5" r="2.7"/><circle cx="2127.2" cy="585.5" r="2.7"/><circle cx="2133.6" cy="585.5" r="2.7"/><circle cx="2140.0" cy="585.5" r="2.7"/><circle cx="2146.4" cy="585.5" r="2.7"/><circle cx="2165.5" cy="585.5" r="2.7"/><circle cx="2223.0" cy="585.5" r="2.7"/><circle cx="2229.4" cy="585.5" r="2.7"/><circle cx="2286.8" cy="585.5" r="2.7"/><circle cx="2293.2" cy="585.5" r="2.7"/><circle cx="2331.5" cy="585.5" r="2.7"/><circle cx="2337.9" cy="585.5" r="2.7"/><circle cx="2344.3" cy="585.5" r="2.7"/><circle cx="2350.6" cy="585.5" r="2.7"/><circle cx="2376.2" cy="585.5" r="2.7"/><circle cx="2382.6" cy="585.5" r="2.7"/><circle cx="2388.9" cy="585.5" r="2.7"/><circle cx="2395.3" cy="585.5" r="2.7"/><circle cx="2401.7" cy="585.5" r="2.7"/><circle cx="2082.5" cy="591.9" r="2.7"/><circle cx="2088.9" cy="591.9" r="2.7"/><circle cx="2095.3" cy="591.9" r="2.7"/><circle cx="2101.7" cy="591.9" r="2.7"/><circle cx="2108.1" cy="591.9" r="2.7"/><circle cx="2114.5" cy="591.9" r="2.7"/><circle cx="2120.8" cy="591.9" r="2.7"/><circle cx="2127.2" cy="591.9" r="2.7"/><circle cx="2133.6" cy="591.9" r="2.7"/><circle cx="2140.0" cy="591.9" r="2.7"/><circle cx="2146.4" cy="591.9" r="2.7"/><circle cx="2286.8" cy="591.9" r="2.7"/><circle cx="2325.1" cy="591.9" r="2.7"/><circle cx="2337.9" cy="591.9" r="2.7"/><circle cx="2344.3" cy="591.9" r="2.7"/><circle cx="2350.6" cy="591.9" r="2.7"/><circle cx="2363.4" cy="591.9" r="2.7"/><circle cx="2388.9" cy="591.9" r="2.7"/><circle cx="2395.3" cy="591.9" r="2.7"/><circle cx="2401.7" cy="591.9" r="2.7"/><circle cx="2095.3" cy="598.3" r="2.7"/><circle cx="2101.7" cy="598.3" r="2.7"/><circle cx="2108.1" cy="598.3" r="2.7"/><circle cx="2114.5" cy="598.3" r="2.7"/><circle cx="2120.8" cy="598.3" r="2.7"/><circle cx="2127.2" cy="598.3" r="2.7"/><circle cx="2133.6" cy="598.3" r="2.7"/><circle cx="2140.0" cy="598.3" r="2.7"/><circle cx="2280.4" cy="598.3" r="2.7"/><circle cx="2286.8" cy="598.3" r="2.7"/><circle cx="2337.9" cy="598.3" r="2.7"/><circle cx="2344.3" cy="598.3" r="2.7"/><circle cx="2350.6" cy="598.3" r="2.7"/><circle cx="2369.8" cy="598.3" r="2.7"/><circle cx="2382.6" cy="598.3" r="2.7"/><circle cx="2401.7" cy="598.3" r="2.7"/><circle cx="2095.3" cy="604.7" r="2.7"/><circle cx="2101.7" cy="604.7" r="2.7"/><circle cx="2108.1" cy="604.7" r="2.7"/><circle cx="2120.8" cy="604.7" r="2.7"/><circle cx="2127.2" cy="604.7" r="2.7"/><circle cx="2261.3" cy="604.7" r="2.7"/><circle cx="2267.7" cy="604.7" r="2.7"/><circle cx="2274.0" cy="604.7" r="2.7"/><circle cx="2280.4" cy="604.7" r="2.7"/><circle cx="2337.9" cy="604.7" r="2.7"/><circle cx="2344.3" cy="604.7" r="2.7"/><circle cx="2369.8" cy="604.7" r="2.7"/><circle cx="2274.0" cy="611.1" r="2.7"/><circle cx="2280.4" cy="611.1" r="2.7"/><circle cx="2350.6" cy="611.1" r="2.7"/><circle cx="2357.0" cy="617.4" r="2.7"/><circle cx="2369.8" cy="617.4" r="2.7"/><circle cx="2274.0" cy="623.8" r="2.7"/></g></svg>
</aside>
<section class="stats">
<div class="t" id="costl" style="left:185.40px;top:326.39px;font-size:69.40px;font-weight:400;color:#e91b32;transform:scaleX(0.9555);-webkit-text-stroke:1.3px #fff;">ΣΥΝΟΛΙΚΟ ΚΟΣΤΟΣ</div>
<div class="t" id="costv" style="left:191.27px;top:405.98px;font-size:94.15px;font-weight:700;color:#e91b32;transform:scaleX(1.1054);-webkit-text-stroke:3.8px #e91b32;letter-spacing:2.0px;">738.280.000.000</div>
<div class="t" id="euro" style="left:1002.21px;top:440.22px;font-size:58.37px;font-weight:400;color:#e91b32;transform:scaleX(1.0757);-webkit-text-stroke:1.6px #fff;">€</div>
<div class="hline" style="left:195.5px;top:512.6px;width:844.5px"></div>
<div class="t" id="vicl" style="left:187.35px;top:558.39px;font-size:67.63px;font-weight:400;color:#e91b32;transform:scaleX(0.9951);-webkit-text-stroke:1.3px #fff;">ΘΥΜΑΤΑ</div>
<div class="t" id="vicv" style="left:190.89px;top:636.08px;font-size:96.28px;font-weight:700;color:#e91b32;transform:scaleX(1.0681);-webkit-text-stroke:3.8px #e91b32;letter-spacing:2.0px;">241.587</div>
<div class="t" id="people" style="left:573.90px;top:659.92px;font-size:70.78px;font-weight:400;color:#e91b32;transform:scaleX(0.9637);-webkit-text-stroke:0.5px #fff;">άνθρωποι</div>
<div class="hline" style="left:195.5px;top:751.9px;width:676.5px"></div>
</section>
<section class="chart">
<p class="caption"><span class="t" id="l1" style="left:544.61px;top:871.02px;font-size:75.09px;font-weight:700;color:#1e2967;transform:scaleX(0.9988);-webkit-text-stroke:1.6px #1e2967;">Τα 5 έτη</span><span class="t" id="l2" style="left:256.87px;top:955.72px;font-size:77.93px;font-weight:700;color:#1e2967;transform:scaleX(0.9248);-webkit-text-stroke:1.6px #1e2967;">με το υψηλότερο</span><span class="t" id="l3" style="left:575.82px;top:1044.67px;font-size:74.92px;font-weight:700;color:#1e2967;transform:scaleX(0.9905);-webkit-text-stroke:1.6px #1e2967;">κόστος</span></p>
<svg class="abs" width="2560" height="1440" viewBox="0 0 2560 1440"><polygon fill="#1e2967" points="867.7,923.3 923.3,999.8 867.7,1076.5"/></svg>
<div class="col">
<div class="t" id="v1" style="left:972.19px;top:671.62px;font-size:102.26px;font-weight:400;color:#1e2967;transform:scaleX(0.9146);-webkit-text-stroke:2.4px #fff;">36,7</div>
<div class="t" id="u1" style="left:1008.10px;top:781.76px;font-size:41.74px;font-weight:400;color:#1e2967;transform:scaleX(1.0930);-webkit-text-stroke:0.3px #fff;">δισ. €</div>
<div class="bar" style="left:955.0px;top:845.0px;width:222.5px;height:298.4px"></div>
<div class="t" id="y1" style="left:1006.16px;top:1192.17px;font-size:52.48px;font-weight:400;color:#1e2967;transform:scaleX(1.0359);-webkit-text-stroke:1.2px #fff;">1999</div>
</div>
<div class="vline" style="left:1211.75px;top:585.5px;height:557.9px"></div>
<div class="col">
<div class="t" id="v2" style="left:1266.47px;top:596.02px;font-size:102.97px;font-weight:400;color:#1e2967;transform:scaleX(0.9087);-webkit-text-stroke:2.4px #fff;">45,7</div>
<div class="t" id="u2" style="left:1301.85px;top:706.01px;font-size:41.74px;font-weight:400;color:#1e2967;transform:scaleX(1.0930);-webkit-text-stroke:0.3px #fff;">δισ. €</div>
<div class="bar" style="left:1248.3px;top:766.2px;width:222.5px;height:377.2px"></div>
<div class="t" id="y2" style="left:1298.83px;top:1192.17px;font-size:52.48px;font-weight:400;color:#1e2967;transform:scaleX(1.0315);-webkit-text-stroke:1.2px #fff;">2002</div>
</div>
<div class="vline" style="left:1505.45px;top:457px;height:686.4px"></div>
<div class="col">
<div class="t" id="v3" style="left:1593.93px;top:444.91px;font-size:103.68px;font-weight:400;color:#1e2967;transform:scaleX(0.9717);-webkit-text-stroke:2.4px #fff;">63</div>
<div class="t" id="u3" style="left:1595.60px;top:549.76px;font-size:41.74px;font-weight:400;color:#1e2967;transform:scaleX(1.0930);-webkit-text-stroke:0.3px #fff;">δισ. €</div>
<div class="bar" style="left:1541.7px;top:611.0px;width:222.5px;height:532.4px"></div>
<div class="t" id="y3" style="left:1590.96px;top:1192.17px;font-size:52.48px;font-weight:400;color:#1e2967;transform:scaleX(0.9862);-webkit-text-stroke:1.2px #fff;">2021</div>
</div>
<div class="vline" style="left:1798.75px;top:457px;height:686.4px"></div>
<div class="col">
<div class="t" id="v4" style="left:1888.93px;top:504.81px;font-size:104.39px;font-weight:400;color:#1e2967;transform:scaleX(0.9816);-webkit-text-stroke:2.4px #fff;">56</div>
<div class="t" id="u4" style="left:1889.43px;top:611.01px;font-size:41.74px;font-weight:400;color:#1e2967;transform:scaleX(1.0853);-webkit-text-stroke:0.3px #fff;">δισ. €</div>
<div class="bar" style="left:1835.0px;top:670.0px;width:222.5px;height:473.4px"></div>
<div class="t" id="y4" style="left:1884.62px;top:1192.17px;font-size:52.48px;font-weight:400;color:#1e2967;transform:scaleX(1.0487);-webkit-text-stroke:1.2px #fff;">2022</div>
</div>
<div class="vline" style="left:2091.85px;top:670px;height:473.4px"></div>
<div class="col">
<div class="t" id="v5" style="left:2145.31px;top:616.31px;font-size:104.39px;font-weight:400;color:#1e2967;transform:scaleX(0.9137);-webkit-text-stroke:2.4px #fff;">43,9</div>
<div class="t" id="u5" style="left:2183.34px;top:730.06px;font-size:41.74px;font-weight:400;color:#1e2967;transform:scaleX(1.0940);-webkit-text-stroke:0.3px #fff;">δισ. €</div>
<div class="bar" style="left:2128.3px;top:786.0px;width:222.5px;height:357.4px"></div>
<div class="t" id="y5" style="left:2178.14px;top:1192.17px;font-size:52.48px;font-weight:400;color:#1e2967;transform:scaleX(1.0266);-webkit-text-stroke:1.2px #fff;">2023</div>
</div>
</section>
</body>
</html>
